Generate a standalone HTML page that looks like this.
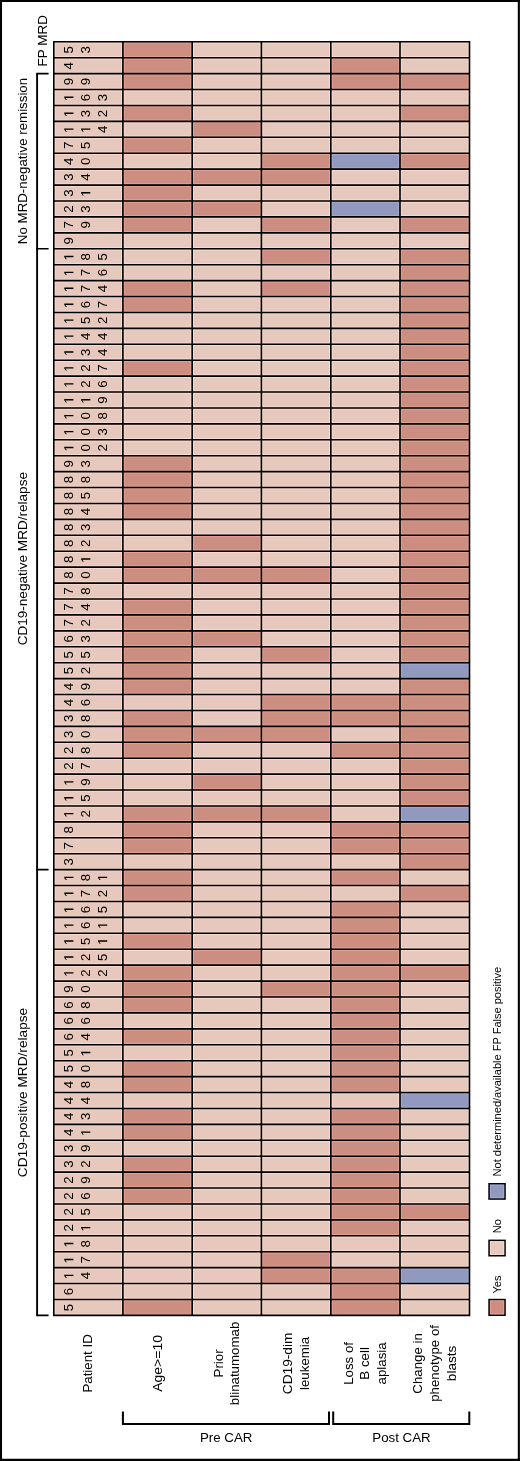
<!DOCTYPE html><html><head><meta charset="utf-8"><style>html,body{margin:0;padding:0;background:#fff;width:520px;height:1461px;overflow:hidden}svg{display:block;will-change:transform}text{font-family:"Liberation Sans",sans-serif;fill:#000}</style></head><body>
<svg width="520" height="1461" viewBox="0 0 520 1461">
<rect x="0" y="0" width="520" height="1461" fill="#fff"/>
<rect x="53.80" y="41.80" width="69.10" height="15.92" fill="#e6c8bd"/>
<rect x="55.10" y="43.10" width="66.50" height="13.32" fill="none" stroke="#f8dacf" stroke-width="1.0"/>
<rect x="122.90" y="41.80" width="69.30" height="15.92" fill="#cc8e81"/>
<rect x="124.20" y="43.10" width="66.70" height="13.32" fill="none" stroke="#e3a191" stroke-width="1.0"/>
<rect x="192.20" y="41.80" width="69.20" height="15.92" fill="#e6c8bd"/>
<rect x="193.50" y="43.10" width="66.60" height="13.32" fill="none" stroke="#f8dacf" stroke-width="1.0"/>
<rect x="261.40" y="41.80" width="69.40" height="15.92" fill="#e6c8bd"/>
<rect x="262.70" y="43.10" width="66.80" height="13.32" fill="none" stroke="#f8dacf" stroke-width="1.0"/>
<rect x="330.80" y="41.80" width="69.20" height="15.92" fill="#e6c8bd"/>
<rect x="332.10" y="43.10" width="66.60" height="13.32" fill="none" stroke="#f8dacf" stroke-width="1.0"/>
<rect x="400.00" y="41.80" width="69.50" height="15.92" fill="#e6c8bd"/>
<rect x="401.30" y="43.10" width="66.90" height="13.32" fill="none" stroke="#f8dacf" stroke-width="1.0"/>
<rect x="53.80" y="57.72" width="69.10" height="15.92" fill="#e6c8bd"/>
<rect x="55.10" y="59.02" width="66.50" height="13.32" fill="none" stroke="#f8dacf" stroke-width="1.0"/>
<rect x="122.90" y="57.72" width="69.30" height="15.92" fill="#cc8e81"/>
<rect x="124.20" y="59.02" width="66.70" height="13.32" fill="none" stroke="#e3a191" stroke-width="1.0"/>
<rect x="192.20" y="57.72" width="69.20" height="15.92" fill="#e6c8bd"/>
<rect x="193.50" y="59.02" width="66.60" height="13.32" fill="none" stroke="#f8dacf" stroke-width="1.0"/>
<rect x="261.40" y="57.72" width="69.40" height="15.92" fill="#e6c8bd"/>
<rect x="262.70" y="59.02" width="66.80" height="13.32" fill="none" stroke="#f8dacf" stroke-width="1.0"/>
<rect x="330.80" y="57.72" width="69.20" height="15.92" fill="#cc8e81"/>
<rect x="332.10" y="59.02" width="66.60" height="13.32" fill="none" stroke="#e3a191" stroke-width="1.0"/>
<rect x="400.00" y="57.72" width="69.50" height="15.92" fill="#e6c8bd"/>
<rect x="401.30" y="59.02" width="66.90" height="13.32" fill="none" stroke="#f8dacf" stroke-width="1.0"/>
<rect x="53.80" y="73.64" width="69.10" height="15.92" fill="#e6c8bd"/>
<rect x="55.10" y="74.94" width="66.50" height="13.32" fill="none" stroke="#f8dacf" stroke-width="1.0"/>
<rect x="122.90" y="73.64" width="69.30" height="15.92" fill="#cc8e81"/>
<rect x="124.20" y="74.94" width="66.70" height="13.32" fill="none" stroke="#e3a191" stroke-width="1.0"/>
<rect x="192.20" y="73.64" width="69.20" height="15.92" fill="#e6c8bd"/>
<rect x="193.50" y="74.94" width="66.60" height="13.32" fill="none" stroke="#f8dacf" stroke-width="1.0"/>
<rect x="261.40" y="73.64" width="69.40" height="15.92" fill="#e6c8bd"/>
<rect x="262.70" y="74.94" width="66.80" height="13.32" fill="none" stroke="#f8dacf" stroke-width="1.0"/>
<rect x="330.80" y="73.64" width="69.20" height="15.92" fill="#cc8e81"/>
<rect x="332.10" y="74.94" width="66.60" height="13.32" fill="none" stroke="#e3a191" stroke-width="1.0"/>
<rect x="400.00" y="73.64" width="69.50" height="15.92" fill="#cc8e81"/>
<rect x="401.30" y="74.94" width="66.90" height="13.32" fill="none" stroke="#e3a191" stroke-width="1.0"/>
<rect x="53.80" y="89.56" width="69.10" height="15.92" fill="#e6c8bd"/>
<rect x="55.10" y="90.86" width="66.50" height="13.32" fill="none" stroke="#f8dacf" stroke-width="1.0"/>
<rect x="122.90" y="89.56" width="69.30" height="15.92" fill="#e6c8bd"/>
<rect x="124.20" y="90.86" width="66.70" height="13.32" fill="none" stroke="#f8dacf" stroke-width="1.0"/>
<rect x="192.20" y="89.56" width="69.20" height="15.92" fill="#e6c8bd"/>
<rect x="193.50" y="90.86" width="66.60" height="13.32" fill="none" stroke="#f8dacf" stroke-width="1.0"/>
<rect x="261.40" y="89.56" width="69.40" height="15.92" fill="#e6c8bd"/>
<rect x="262.70" y="90.86" width="66.80" height="13.32" fill="none" stroke="#f8dacf" stroke-width="1.0"/>
<rect x="330.80" y="89.56" width="69.20" height="15.92" fill="#e6c8bd"/>
<rect x="332.10" y="90.86" width="66.60" height="13.32" fill="none" stroke="#f8dacf" stroke-width="1.0"/>
<rect x="400.00" y="89.56" width="69.50" height="15.92" fill="#e6c8bd"/>
<rect x="401.30" y="90.86" width="66.90" height="13.32" fill="none" stroke="#f8dacf" stroke-width="1.0"/>
<rect x="53.80" y="105.48" width="69.10" height="15.92" fill="#e6c8bd"/>
<rect x="55.10" y="106.78" width="66.50" height="13.32" fill="none" stroke="#f8dacf" stroke-width="1.0"/>
<rect x="122.90" y="105.48" width="69.30" height="15.92" fill="#cc8e81"/>
<rect x="124.20" y="106.78" width="66.70" height="13.32" fill="none" stroke="#e3a191" stroke-width="1.0"/>
<rect x="192.20" y="105.48" width="69.20" height="15.92" fill="#e6c8bd"/>
<rect x="193.50" y="106.78" width="66.60" height="13.32" fill="none" stroke="#f8dacf" stroke-width="1.0"/>
<rect x="261.40" y="105.48" width="69.40" height="15.92" fill="#e6c8bd"/>
<rect x="262.70" y="106.78" width="66.80" height="13.32" fill="none" stroke="#f8dacf" stroke-width="1.0"/>
<rect x="330.80" y="105.48" width="69.20" height="15.92" fill="#e6c8bd"/>
<rect x="332.10" y="106.78" width="66.60" height="13.32" fill="none" stroke="#f8dacf" stroke-width="1.0"/>
<rect x="400.00" y="105.48" width="69.50" height="15.92" fill="#cc8e81"/>
<rect x="401.30" y="106.78" width="66.90" height="13.32" fill="none" stroke="#e3a191" stroke-width="1.0"/>
<rect x="53.80" y="121.40" width="69.10" height="15.92" fill="#e6c8bd"/>
<rect x="55.10" y="122.70" width="66.50" height="13.32" fill="none" stroke="#f8dacf" stroke-width="1.0"/>
<rect x="122.90" y="121.40" width="69.30" height="15.92" fill="#e6c8bd"/>
<rect x="124.20" y="122.70" width="66.70" height="13.32" fill="none" stroke="#f8dacf" stroke-width="1.0"/>
<rect x="192.20" y="121.40" width="69.20" height="15.92" fill="#cc8e81"/>
<rect x="193.50" y="122.70" width="66.60" height="13.32" fill="none" stroke="#e3a191" stroke-width="1.0"/>
<rect x="261.40" y="121.40" width="69.40" height="15.92" fill="#e6c8bd"/>
<rect x="262.70" y="122.70" width="66.80" height="13.32" fill="none" stroke="#f8dacf" stroke-width="1.0"/>
<rect x="330.80" y="121.40" width="69.20" height="15.92" fill="#e6c8bd"/>
<rect x="332.10" y="122.70" width="66.60" height="13.32" fill="none" stroke="#f8dacf" stroke-width="1.0"/>
<rect x="400.00" y="121.40" width="69.50" height="15.92" fill="#e6c8bd"/>
<rect x="401.30" y="122.70" width="66.90" height="13.32" fill="none" stroke="#f8dacf" stroke-width="1.0"/>
<rect x="53.80" y="137.32" width="69.10" height="15.92" fill="#e6c8bd"/>
<rect x="55.10" y="138.62" width="66.50" height="13.32" fill="none" stroke="#f8dacf" stroke-width="1.0"/>
<rect x="122.90" y="137.32" width="69.30" height="15.92" fill="#cc8e81"/>
<rect x="124.20" y="138.62" width="66.70" height="13.32" fill="none" stroke="#e3a191" stroke-width="1.0"/>
<rect x="192.20" y="137.32" width="69.20" height="15.92" fill="#e6c8bd"/>
<rect x="193.50" y="138.62" width="66.60" height="13.32" fill="none" stroke="#f8dacf" stroke-width="1.0"/>
<rect x="261.40" y="137.32" width="69.40" height="15.92" fill="#e6c8bd"/>
<rect x="262.70" y="138.62" width="66.80" height="13.32" fill="none" stroke="#f8dacf" stroke-width="1.0"/>
<rect x="330.80" y="137.32" width="69.20" height="15.92" fill="#e6c8bd"/>
<rect x="332.10" y="138.62" width="66.60" height="13.32" fill="none" stroke="#f8dacf" stroke-width="1.0"/>
<rect x="400.00" y="137.32" width="69.50" height="15.92" fill="#e6c8bd"/>
<rect x="401.30" y="138.62" width="66.90" height="13.32" fill="none" stroke="#f8dacf" stroke-width="1.0"/>
<rect x="53.80" y="153.24" width="69.10" height="15.92" fill="#e6c8bd"/>
<rect x="55.10" y="154.54" width="66.50" height="13.32" fill="none" stroke="#f8dacf" stroke-width="1.0"/>
<rect x="122.90" y="153.24" width="69.30" height="15.92" fill="#e6c8bd"/>
<rect x="124.20" y="154.54" width="66.70" height="13.32" fill="none" stroke="#f8dacf" stroke-width="1.0"/>
<rect x="192.20" y="153.24" width="69.20" height="15.92" fill="#e6c8bd"/>
<rect x="193.50" y="154.54" width="66.60" height="13.32" fill="none" stroke="#f8dacf" stroke-width="1.0"/>
<rect x="261.40" y="153.24" width="69.40" height="15.92" fill="#cc8e81"/>
<rect x="262.70" y="154.54" width="66.80" height="13.32" fill="none" stroke="#e3a191" stroke-width="1.0"/>
<rect x="330.80" y="153.24" width="69.20" height="15.92" fill="#9299be"/>
<rect x="332.10" y="154.54" width="66.60" height="13.32" fill="none" stroke="#a4abd2" stroke-width="1.0"/>
<rect x="400.00" y="153.24" width="69.50" height="15.92" fill="#cc8e81"/>
<rect x="401.30" y="154.54" width="66.90" height="13.32" fill="none" stroke="#e3a191" stroke-width="1.0"/>
<rect x="53.80" y="169.16" width="69.10" height="15.92" fill="#e6c8bd"/>
<rect x="55.10" y="170.46" width="66.50" height="13.32" fill="none" stroke="#f8dacf" stroke-width="1.0"/>
<rect x="122.90" y="169.16" width="69.30" height="15.92" fill="#cc8e81"/>
<rect x="124.20" y="170.46" width="66.70" height="13.32" fill="none" stroke="#e3a191" stroke-width="1.0"/>
<rect x="192.20" y="169.16" width="69.20" height="15.92" fill="#cc8e81"/>
<rect x="193.50" y="170.46" width="66.60" height="13.32" fill="none" stroke="#e3a191" stroke-width="1.0"/>
<rect x="261.40" y="169.16" width="69.40" height="15.92" fill="#cc8e81"/>
<rect x="262.70" y="170.46" width="66.80" height="13.32" fill="none" stroke="#e3a191" stroke-width="1.0"/>
<rect x="330.80" y="169.16" width="69.20" height="15.92" fill="#e6c8bd"/>
<rect x="332.10" y="170.46" width="66.60" height="13.32" fill="none" stroke="#f8dacf" stroke-width="1.0"/>
<rect x="400.00" y="169.16" width="69.50" height="15.92" fill="#e6c8bd"/>
<rect x="401.30" y="170.46" width="66.90" height="13.32" fill="none" stroke="#f8dacf" stroke-width="1.0"/>
<rect x="53.80" y="185.08" width="69.10" height="15.92" fill="#e6c8bd"/>
<rect x="55.10" y="186.38" width="66.50" height="13.32" fill="none" stroke="#f8dacf" stroke-width="1.0"/>
<rect x="122.90" y="185.08" width="69.30" height="15.92" fill="#cc8e81"/>
<rect x="124.20" y="186.38" width="66.70" height="13.32" fill="none" stroke="#e3a191" stroke-width="1.0"/>
<rect x="192.20" y="185.08" width="69.20" height="15.92" fill="#e6c8bd"/>
<rect x="193.50" y="186.38" width="66.60" height="13.32" fill="none" stroke="#f8dacf" stroke-width="1.0"/>
<rect x="261.40" y="185.08" width="69.40" height="15.92" fill="#e6c8bd"/>
<rect x="262.70" y="186.38" width="66.80" height="13.32" fill="none" stroke="#f8dacf" stroke-width="1.0"/>
<rect x="330.80" y="185.08" width="69.20" height="15.92" fill="#e6c8bd"/>
<rect x="332.10" y="186.38" width="66.60" height="13.32" fill="none" stroke="#f8dacf" stroke-width="1.0"/>
<rect x="400.00" y="185.08" width="69.50" height="15.92" fill="#e6c8bd"/>
<rect x="401.30" y="186.38" width="66.90" height="13.32" fill="none" stroke="#f8dacf" stroke-width="1.0"/>
<rect x="53.80" y="201.00" width="69.10" height="15.92" fill="#e6c8bd"/>
<rect x="55.10" y="202.30" width="66.50" height="13.32" fill="none" stroke="#f8dacf" stroke-width="1.0"/>
<rect x="122.90" y="201.00" width="69.30" height="15.92" fill="#cc8e81"/>
<rect x="124.20" y="202.30" width="66.70" height="13.32" fill="none" stroke="#e3a191" stroke-width="1.0"/>
<rect x="192.20" y="201.00" width="69.20" height="15.92" fill="#cc8e81"/>
<rect x="193.50" y="202.30" width="66.60" height="13.32" fill="none" stroke="#e3a191" stroke-width="1.0"/>
<rect x="261.40" y="201.00" width="69.40" height="15.92" fill="#e6c8bd"/>
<rect x="262.70" y="202.30" width="66.80" height="13.32" fill="none" stroke="#f8dacf" stroke-width="1.0"/>
<rect x="330.80" y="201.00" width="69.20" height="15.92" fill="#9299be"/>
<rect x="332.10" y="202.30" width="66.60" height="13.32" fill="none" stroke="#a4abd2" stroke-width="1.0"/>
<rect x="400.00" y="201.00" width="69.50" height="15.92" fill="#e6c8bd"/>
<rect x="401.30" y="202.30" width="66.90" height="13.32" fill="none" stroke="#f8dacf" stroke-width="1.0"/>
<rect x="53.80" y="216.92" width="69.10" height="15.92" fill="#e6c8bd"/>
<rect x="55.10" y="218.22" width="66.50" height="13.32" fill="none" stroke="#f8dacf" stroke-width="1.0"/>
<rect x="122.90" y="216.92" width="69.30" height="15.92" fill="#cc8e81"/>
<rect x="124.20" y="218.22" width="66.70" height="13.32" fill="none" stroke="#e3a191" stroke-width="1.0"/>
<rect x="192.20" y="216.92" width="69.20" height="15.92" fill="#e6c8bd"/>
<rect x="193.50" y="218.22" width="66.60" height="13.32" fill="none" stroke="#f8dacf" stroke-width="1.0"/>
<rect x="261.40" y="216.92" width="69.40" height="15.92" fill="#cc8e81"/>
<rect x="262.70" y="218.22" width="66.80" height="13.32" fill="none" stroke="#e3a191" stroke-width="1.0"/>
<rect x="330.80" y="216.92" width="69.20" height="15.92" fill="#e6c8bd"/>
<rect x="332.10" y="218.22" width="66.60" height="13.32" fill="none" stroke="#f8dacf" stroke-width="1.0"/>
<rect x="400.00" y="216.92" width="69.50" height="15.92" fill="#cc8e81"/>
<rect x="401.30" y="218.22" width="66.90" height="13.32" fill="none" stroke="#e3a191" stroke-width="1.0"/>
<rect x="53.80" y="232.84" width="69.10" height="15.92" fill="#e6c8bd"/>
<rect x="55.10" y="234.14" width="66.50" height="13.32" fill="none" stroke="#f8dacf" stroke-width="1.0"/>
<rect x="122.90" y="232.84" width="69.30" height="15.92" fill="#e6c8bd"/>
<rect x="124.20" y="234.14" width="66.70" height="13.32" fill="none" stroke="#f8dacf" stroke-width="1.0"/>
<rect x="192.20" y="232.84" width="69.20" height="15.92" fill="#e6c8bd"/>
<rect x="193.50" y="234.14" width="66.60" height="13.32" fill="none" stroke="#f8dacf" stroke-width="1.0"/>
<rect x="261.40" y="232.84" width="69.40" height="15.92" fill="#e6c8bd"/>
<rect x="262.70" y="234.14" width="66.80" height="13.32" fill="none" stroke="#f8dacf" stroke-width="1.0"/>
<rect x="330.80" y="232.84" width="69.20" height="15.92" fill="#e6c8bd"/>
<rect x="332.10" y="234.14" width="66.60" height="13.32" fill="none" stroke="#f8dacf" stroke-width="1.0"/>
<rect x="400.00" y="232.84" width="69.50" height="15.92" fill="#e6c8bd"/>
<rect x="401.30" y="234.14" width="66.90" height="13.32" fill="none" stroke="#f8dacf" stroke-width="1.0"/>
<rect x="53.80" y="248.76" width="69.10" height="15.92" fill="#e6c8bd"/>
<rect x="55.10" y="250.06" width="66.50" height="13.32" fill="none" stroke="#f8dacf" stroke-width="1.0"/>
<rect x="122.90" y="248.76" width="69.30" height="15.92" fill="#e6c8bd"/>
<rect x="124.20" y="250.06" width="66.70" height="13.32" fill="none" stroke="#f8dacf" stroke-width="1.0"/>
<rect x="192.20" y="248.76" width="69.20" height="15.92" fill="#e6c8bd"/>
<rect x="193.50" y="250.06" width="66.60" height="13.32" fill="none" stroke="#f8dacf" stroke-width="1.0"/>
<rect x="261.40" y="248.76" width="69.40" height="15.92" fill="#cc8e81"/>
<rect x="262.70" y="250.06" width="66.80" height="13.32" fill="none" stroke="#e3a191" stroke-width="1.0"/>
<rect x="330.80" y="248.76" width="69.20" height="15.92" fill="#e6c8bd"/>
<rect x="332.10" y="250.06" width="66.60" height="13.32" fill="none" stroke="#f8dacf" stroke-width="1.0"/>
<rect x="400.00" y="248.76" width="69.50" height="15.92" fill="#cc8e81"/>
<rect x="401.30" y="250.06" width="66.90" height="13.32" fill="none" stroke="#e3a191" stroke-width="1.0"/>
<rect x="53.80" y="264.68" width="69.10" height="15.92" fill="#e6c8bd"/>
<rect x="55.10" y="265.98" width="66.50" height="13.32" fill="none" stroke="#f8dacf" stroke-width="1.0"/>
<rect x="122.90" y="264.68" width="69.30" height="15.92" fill="#e6c8bd"/>
<rect x="124.20" y="265.98" width="66.70" height="13.32" fill="none" stroke="#f8dacf" stroke-width="1.0"/>
<rect x="192.20" y="264.68" width="69.20" height="15.92" fill="#e6c8bd"/>
<rect x="193.50" y="265.98" width="66.60" height="13.32" fill="none" stroke="#f8dacf" stroke-width="1.0"/>
<rect x="261.40" y="264.68" width="69.40" height="15.92" fill="#e6c8bd"/>
<rect x="262.70" y="265.98" width="66.80" height="13.32" fill="none" stroke="#f8dacf" stroke-width="1.0"/>
<rect x="330.80" y="264.68" width="69.20" height="15.92" fill="#e6c8bd"/>
<rect x="332.10" y="265.98" width="66.60" height="13.32" fill="none" stroke="#f8dacf" stroke-width="1.0"/>
<rect x="400.00" y="264.68" width="69.50" height="15.92" fill="#cc8e81"/>
<rect x="401.30" y="265.98" width="66.90" height="13.32" fill="none" stroke="#e3a191" stroke-width="1.0"/>
<rect x="53.80" y="280.60" width="69.10" height="15.92" fill="#e6c8bd"/>
<rect x="55.10" y="281.90" width="66.50" height="13.32" fill="none" stroke="#f8dacf" stroke-width="1.0"/>
<rect x="122.90" y="280.60" width="69.30" height="15.92" fill="#cc8e81"/>
<rect x="124.20" y="281.90" width="66.70" height="13.32" fill="none" stroke="#e3a191" stroke-width="1.0"/>
<rect x="192.20" y="280.60" width="69.20" height="15.92" fill="#e6c8bd"/>
<rect x="193.50" y="281.90" width="66.60" height="13.32" fill="none" stroke="#f8dacf" stroke-width="1.0"/>
<rect x="261.40" y="280.60" width="69.40" height="15.92" fill="#cc8e81"/>
<rect x="262.70" y="281.90" width="66.80" height="13.32" fill="none" stroke="#e3a191" stroke-width="1.0"/>
<rect x="330.80" y="280.60" width="69.20" height="15.92" fill="#e6c8bd"/>
<rect x="332.10" y="281.90" width="66.60" height="13.32" fill="none" stroke="#f8dacf" stroke-width="1.0"/>
<rect x="400.00" y="280.60" width="69.50" height="15.92" fill="#cc8e81"/>
<rect x="401.30" y="281.90" width="66.90" height="13.32" fill="none" stroke="#e3a191" stroke-width="1.0"/>
<rect x="53.80" y="296.52" width="69.10" height="15.92" fill="#e6c8bd"/>
<rect x="55.10" y="297.82" width="66.50" height="13.32" fill="none" stroke="#f8dacf" stroke-width="1.0"/>
<rect x="122.90" y="296.52" width="69.30" height="15.92" fill="#cc8e81"/>
<rect x="124.20" y="297.82" width="66.70" height="13.32" fill="none" stroke="#e3a191" stroke-width="1.0"/>
<rect x="192.20" y="296.52" width="69.20" height="15.92" fill="#e6c8bd"/>
<rect x="193.50" y="297.82" width="66.60" height="13.32" fill="none" stroke="#f8dacf" stroke-width="1.0"/>
<rect x="261.40" y="296.52" width="69.40" height="15.92" fill="#e6c8bd"/>
<rect x="262.70" y="297.82" width="66.80" height="13.32" fill="none" stroke="#f8dacf" stroke-width="1.0"/>
<rect x="330.80" y="296.52" width="69.20" height="15.92" fill="#e6c8bd"/>
<rect x="332.10" y="297.82" width="66.60" height="13.32" fill="none" stroke="#f8dacf" stroke-width="1.0"/>
<rect x="400.00" y="296.52" width="69.50" height="15.92" fill="#cc8e81"/>
<rect x="401.30" y="297.82" width="66.90" height="13.32" fill="none" stroke="#e3a191" stroke-width="1.0"/>
<rect x="53.80" y="312.44" width="69.10" height="15.92" fill="#e6c8bd"/>
<rect x="55.10" y="313.74" width="66.50" height="13.32" fill="none" stroke="#f8dacf" stroke-width="1.0"/>
<rect x="122.90" y="312.44" width="69.30" height="15.92" fill="#e6c8bd"/>
<rect x="124.20" y="313.74" width="66.70" height="13.32" fill="none" stroke="#f8dacf" stroke-width="1.0"/>
<rect x="192.20" y="312.44" width="69.20" height="15.92" fill="#e6c8bd"/>
<rect x="193.50" y="313.74" width="66.60" height="13.32" fill="none" stroke="#f8dacf" stroke-width="1.0"/>
<rect x="261.40" y="312.44" width="69.40" height="15.92" fill="#e6c8bd"/>
<rect x="262.70" y="313.74" width="66.80" height="13.32" fill="none" stroke="#f8dacf" stroke-width="1.0"/>
<rect x="330.80" y="312.44" width="69.20" height="15.92" fill="#e6c8bd"/>
<rect x="332.10" y="313.74" width="66.60" height="13.32" fill="none" stroke="#f8dacf" stroke-width="1.0"/>
<rect x="400.00" y="312.44" width="69.50" height="15.92" fill="#cc8e81"/>
<rect x="401.30" y="313.74" width="66.90" height="13.32" fill="none" stroke="#e3a191" stroke-width="1.0"/>
<rect x="53.80" y="328.36" width="69.10" height="15.92" fill="#e6c8bd"/>
<rect x="55.10" y="329.66" width="66.50" height="13.32" fill="none" stroke="#f8dacf" stroke-width="1.0"/>
<rect x="122.90" y="328.36" width="69.30" height="15.92" fill="#e6c8bd"/>
<rect x="124.20" y="329.66" width="66.70" height="13.32" fill="none" stroke="#f8dacf" stroke-width="1.0"/>
<rect x="192.20" y="328.36" width="69.20" height="15.92" fill="#e6c8bd"/>
<rect x="193.50" y="329.66" width="66.60" height="13.32" fill="none" stroke="#f8dacf" stroke-width="1.0"/>
<rect x="261.40" y="328.36" width="69.40" height="15.92" fill="#e6c8bd"/>
<rect x="262.70" y="329.66" width="66.80" height="13.32" fill="none" stroke="#f8dacf" stroke-width="1.0"/>
<rect x="330.80" y="328.36" width="69.20" height="15.92" fill="#e6c8bd"/>
<rect x="332.10" y="329.66" width="66.60" height="13.32" fill="none" stroke="#f8dacf" stroke-width="1.0"/>
<rect x="400.00" y="328.36" width="69.50" height="15.92" fill="#cc8e81"/>
<rect x="401.30" y="329.66" width="66.90" height="13.32" fill="none" stroke="#e3a191" stroke-width="1.0"/>
<rect x="53.80" y="344.28" width="69.10" height="15.92" fill="#e6c8bd"/>
<rect x="55.10" y="345.58" width="66.50" height="13.32" fill="none" stroke="#f8dacf" stroke-width="1.0"/>
<rect x="122.90" y="344.28" width="69.30" height="15.92" fill="#e6c8bd"/>
<rect x="124.20" y="345.58" width="66.70" height="13.32" fill="none" stroke="#f8dacf" stroke-width="1.0"/>
<rect x="192.20" y="344.28" width="69.20" height="15.92" fill="#e6c8bd"/>
<rect x="193.50" y="345.58" width="66.60" height="13.32" fill="none" stroke="#f8dacf" stroke-width="1.0"/>
<rect x="261.40" y="344.28" width="69.40" height="15.92" fill="#e6c8bd"/>
<rect x="262.70" y="345.58" width="66.80" height="13.32" fill="none" stroke="#f8dacf" stroke-width="1.0"/>
<rect x="330.80" y="344.28" width="69.20" height="15.92" fill="#e6c8bd"/>
<rect x="332.10" y="345.58" width="66.60" height="13.32" fill="none" stroke="#f8dacf" stroke-width="1.0"/>
<rect x="400.00" y="344.28" width="69.50" height="15.92" fill="#cc8e81"/>
<rect x="401.30" y="345.58" width="66.90" height="13.32" fill="none" stroke="#e3a191" stroke-width="1.0"/>
<rect x="53.80" y="360.20" width="69.10" height="15.92" fill="#e6c8bd"/>
<rect x="55.10" y="361.50" width="66.50" height="13.32" fill="none" stroke="#f8dacf" stroke-width="1.0"/>
<rect x="122.90" y="360.20" width="69.30" height="15.92" fill="#cc8e81"/>
<rect x="124.20" y="361.50" width="66.70" height="13.32" fill="none" stroke="#e3a191" stroke-width="1.0"/>
<rect x="192.20" y="360.20" width="69.20" height="15.92" fill="#e6c8bd"/>
<rect x="193.50" y="361.50" width="66.60" height="13.32" fill="none" stroke="#f8dacf" stroke-width="1.0"/>
<rect x="261.40" y="360.20" width="69.40" height="15.92" fill="#e6c8bd"/>
<rect x="262.70" y="361.50" width="66.80" height="13.32" fill="none" stroke="#f8dacf" stroke-width="1.0"/>
<rect x="330.80" y="360.20" width="69.20" height="15.92" fill="#e6c8bd"/>
<rect x="332.10" y="361.50" width="66.60" height="13.32" fill="none" stroke="#f8dacf" stroke-width="1.0"/>
<rect x="400.00" y="360.20" width="69.50" height="15.92" fill="#cc8e81"/>
<rect x="401.30" y="361.50" width="66.90" height="13.32" fill="none" stroke="#e3a191" stroke-width="1.0"/>
<rect x="53.80" y="376.12" width="69.10" height="15.92" fill="#e6c8bd"/>
<rect x="55.10" y="377.42" width="66.50" height="13.32" fill="none" stroke="#f8dacf" stroke-width="1.0"/>
<rect x="122.90" y="376.12" width="69.30" height="15.92" fill="#e6c8bd"/>
<rect x="124.20" y="377.42" width="66.70" height="13.32" fill="none" stroke="#f8dacf" stroke-width="1.0"/>
<rect x="192.20" y="376.12" width="69.20" height="15.92" fill="#e6c8bd"/>
<rect x="193.50" y="377.42" width="66.60" height="13.32" fill="none" stroke="#f8dacf" stroke-width="1.0"/>
<rect x="261.40" y="376.12" width="69.40" height="15.92" fill="#e6c8bd"/>
<rect x="262.70" y="377.42" width="66.80" height="13.32" fill="none" stroke="#f8dacf" stroke-width="1.0"/>
<rect x="330.80" y="376.12" width="69.20" height="15.92" fill="#e6c8bd"/>
<rect x="332.10" y="377.42" width="66.60" height="13.32" fill="none" stroke="#f8dacf" stroke-width="1.0"/>
<rect x="400.00" y="376.12" width="69.50" height="15.92" fill="#cc8e81"/>
<rect x="401.30" y="377.42" width="66.90" height="13.32" fill="none" stroke="#e3a191" stroke-width="1.0"/>
<rect x="53.80" y="392.04" width="69.10" height="15.92" fill="#e6c8bd"/>
<rect x="55.10" y="393.34" width="66.50" height="13.32" fill="none" stroke="#f8dacf" stroke-width="1.0"/>
<rect x="122.90" y="392.04" width="69.30" height="15.92" fill="#e6c8bd"/>
<rect x="124.20" y="393.34" width="66.70" height="13.32" fill="none" stroke="#f8dacf" stroke-width="1.0"/>
<rect x="192.20" y="392.04" width="69.20" height="15.92" fill="#e6c8bd"/>
<rect x="193.50" y="393.34" width="66.60" height="13.32" fill="none" stroke="#f8dacf" stroke-width="1.0"/>
<rect x="261.40" y="392.04" width="69.40" height="15.92" fill="#e6c8bd"/>
<rect x="262.70" y="393.34" width="66.80" height="13.32" fill="none" stroke="#f8dacf" stroke-width="1.0"/>
<rect x="330.80" y="392.04" width="69.20" height="15.92" fill="#e6c8bd"/>
<rect x="332.10" y="393.34" width="66.60" height="13.32" fill="none" stroke="#f8dacf" stroke-width="1.0"/>
<rect x="400.00" y="392.04" width="69.50" height="15.92" fill="#cc8e81"/>
<rect x="401.30" y="393.34" width="66.90" height="13.32" fill="none" stroke="#e3a191" stroke-width="1.0"/>
<rect x="53.80" y="407.96" width="69.10" height="15.92" fill="#e6c8bd"/>
<rect x="55.10" y="409.26" width="66.50" height="13.32" fill="none" stroke="#f8dacf" stroke-width="1.0"/>
<rect x="122.90" y="407.96" width="69.30" height="15.92" fill="#e6c8bd"/>
<rect x="124.20" y="409.26" width="66.70" height="13.32" fill="none" stroke="#f8dacf" stroke-width="1.0"/>
<rect x="192.20" y="407.96" width="69.20" height="15.92" fill="#e6c8bd"/>
<rect x="193.50" y="409.26" width="66.60" height="13.32" fill="none" stroke="#f8dacf" stroke-width="1.0"/>
<rect x="261.40" y="407.96" width="69.40" height="15.92" fill="#e6c8bd"/>
<rect x="262.70" y="409.26" width="66.80" height="13.32" fill="none" stroke="#f8dacf" stroke-width="1.0"/>
<rect x="330.80" y="407.96" width="69.20" height="15.92" fill="#e6c8bd"/>
<rect x="332.10" y="409.26" width="66.60" height="13.32" fill="none" stroke="#f8dacf" stroke-width="1.0"/>
<rect x="400.00" y="407.96" width="69.50" height="15.92" fill="#cc8e81"/>
<rect x="401.30" y="409.26" width="66.90" height="13.32" fill="none" stroke="#e3a191" stroke-width="1.0"/>
<rect x="53.80" y="423.88" width="69.10" height="15.92" fill="#e6c8bd"/>
<rect x="55.10" y="425.18" width="66.50" height="13.32" fill="none" stroke="#f8dacf" stroke-width="1.0"/>
<rect x="122.90" y="423.88" width="69.30" height="15.92" fill="#e6c8bd"/>
<rect x="124.20" y="425.18" width="66.70" height="13.32" fill="none" stroke="#f8dacf" stroke-width="1.0"/>
<rect x="192.20" y="423.88" width="69.20" height="15.92" fill="#e6c8bd"/>
<rect x="193.50" y="425.18" width="66.60" height="13.32" fill="none" stroke="#f8dacf" stroke-width="1.0"/>
<rect x="261.40" y="423.88" width="69.40" height="15.92" fill="#e6c8bd"/>
<rect x="262.70" y="425.18" width="66.80" height="13.32" fill="none" stroke="#f8dacf" stroke-width="1.0"/>
<rect x="330.80" y="423.88" width="69.20" height="15.92" fill="#e6c8bd"/>
<rect x="332.10" y="425.18" width="66.60" height="13.32" fill="none" stroke="#f8dacf" stroke-width="1.0"/>
<rect x="400.00" y="423.88" width="69.50" height="15.92" fill="#cc8e81"/>
<rect x="401.30" y="425.18" width="66.90" height="13.32" fill="none" stroke="#e3a191" stroke-width="1.0"/>
<rect x="53.80" y="439.80" width="69.10" height="15.92" fill="#e6c8bd"/>
<rect x="55.10" y="441.10" width="66.50" height="13.32" fill="none" stroke="#f8dacf" stroke-width="1.0"/>
<rect x="122.90" y="439.80" width="69.30" height="15.92" fill="#e6c8bd"/>
<rect x="124.20" y="441.10" width="66.70" height="13.32" fill="none" stroke="#f8dacf" stroke-width="1.0"/>
<rect x="192.20" y="439.80" width="69.20" height="15.92" fill="#e6c8bd"/>
<rect x="193.50" y="441.10" width="66.60" height="13.32" fill="none" stroke="#f8dacf" stroke-width="1.0"/>
<rect x="261.40" y="439.80" width="69.40" height="15.92" fill="#e6c8bd"/>
<rect x="262.70" y="441.10" width="66.80" height="13.32" fill="none" stroke="#f8dacf" stroke-width="1.0"/>
<rect x="330.80" y="439.80" width="69.20" height="15.92" fill="#e6c8bd"/>
<rect x="332.10" y="441.10" width="66.60" height="13.32" fill="none" stroke="#f8dacf" stroke-width="1.0"/>
<rect x="400.00" y="439.80" width="69.50" height="15.92" fill="#cc8e81"/>
<rect x="401.30" y="441.10" width="66.90" height="13.32" fill="none" stroke="#e3a191" stroke-width="1.0"/>
<rect x="53.80" y="455.72" width="69.10" height="15.92" fill="#e6c8bd"/>
<rect x="55.10" y="457.02" width="66.50" height="13.32" fill="none" stroke="#f8dacf" stroke-width="1.0"/>
<rect x="122.90" y="455.72" width="69.30" height="15.92" fill="#cc8e81"/>
<rect x="124.20" y="457.02" width="66.70" height="13.32" fill="none" stroke="#e3a191" stroke-width="1.0"/>
<rect x="192.20" y="455.72" width="69.20" height="15.92" fill="#e6c8bd"/>
<rect x="193.50" y="457.02" width="66.60" height="13.32" fill="none" stroke="#f8dacf" stroke-width="1.0"/>
<rect x="261.40" y="455.72" width="69.40" height="15.92" fill="#e6c8bd"/>
<rect x="262.70" y="457.02" width="66.80" height="13.32" fill="none" stroke="#f8dacf" stroke-width="1.0"/>
<rect x="330.80" y="455.72" width="69.20" height="15.92" fill="#e6c8bd"/>
<rect x="332.10" y="457.02" width="66.60" height="13.32" fill="none" stroke="#f8dacf" stroke-width="1.0"/>
<rect x="400.00" y="455.72" width="69.50" height="15.92" fill="#cc8e81"/>
<rect x="401.30" y="457.02" width="66.90" height="13.32" fill="none" stroke="#e3a191" stroke-width="1.0"/>
<rect x="53.80" y="471.64" width="69.10" height="15.92" fill="#e6c8bd"/>
<rect x="55.10" y="472.94" width="66.50" height="13.32" fill="none" stroke="#f8dacf" stroke-width="1.0"/>
<rect x="122.90" y="471.64" width="69.30" height="15.92" fill="#cc8e81"/>
<rect x="124.20" y="472.94" width="66.70" height="13.32" fill="none" stroke="#e3a191" stroke-width="1.0"/>
<rect x="192.20" y="471.64" width="69.20" height="15.92" fill="#e6c8bd"/>
<rect x="193.50" y="472.94" width="66.60" height="13.32" fill="none" stroke="#f8dacf" stroke-width="1.0"/>
<rect x="261.40" y="471.64" width="69.40" height="15.92" fill="#e6c8bd"/>
<rect x="262.70" y="472.94" width="66.80" height="13.32" fill="none" stroke="#f8dacf" stroke-width="1.0"/>
<rect x="330.80" y="471.64" width="69.20" height="15.92" fill="#e6c8bd"/>
<rect x="332.10" y="472.94" width="66.60" height="13.32" fill="none" stroke="#f8dacf" stroke-width="1.0"/>
<rect x="400.00" y="471.64" width="69.50" height="15.92" fill="#cc8e81"/>
<rect x="401.30" y="472.94" width="66.90" height="13.32" fill="none" stroke="#e3a191" stroke-width="1.0"/>
<rect x="53.80" y="487.56" width="69.10" height="15.92" fill="#e6c8bd"/>
<rect x="55.10" y="488.86" width="66.50" height="13.32" fill="none" stroke="#f8dacf" stroke-width="1.0"/>
<rect x="122.90" y="487.56" width="69.30" height="15.92" fill="#cc8e81"/>
<rect x="124.20" y="488.86" width="66.70" height="13.32" fill="none" stroke="#e3a191" stroke-width="1.0"/>
<rect x="192.20" y="487.56" width="69.20" height="15.92" fill="#e6c8bd"/>
<rect x="193.50" y="488.86" width="66.60" height="13.32" fill="none" stroke="#f8dacf" stroke-width="1.0"/>
<rect x="261.40" y="487.56" width="69.40" height="15.92" fill="#e6c8bd"/>
<rect x="262.70" y="488.86" width="66.80" height="13.32" fill="none" stroke="#f8dacf" stroke-width="1.0"/>
<rect x="330.80" y="487.56" width="69.20" height="15.92" fill="#e6c8bd"/>
<rect x="332.10" y="488.86" width="66.60" height="13.32" fill="none" stroke="#f8dacf" stroke-width="1.0"/>
<rect x="400.00" y="487.56" width="69.50" height="15.92" fill="#cc8e81"/>
<rect x="401.30" y="488.86" width="66.90" height="13.32" fill="none" stroke="#e3a191" stroke-width="1.0"/>
<rect x="53.80" y="503.48" width="69.10" height="15.92" fill="#e6c8bd"/>
<rect x="55.10" y="504.78" width="66.50" height="13.32" fill="none" stroke="#f8dacf" stroke-width="1.0"/>
<rect x="122.90" y="503.48" width="69.30" height="15.92" fill="#cc8e81"/>
<rect x="124.20" y="504.78" width="66.70" height="13.32" fill="none" stroke="#e3a191" stroke-width="1.0"/>
<rect x="192.20" y="503.48" width="69.20" height="15.92" fill="#e6c8bd"/>
<rect x="193.50" y="504.78" width="66.60" height="13.32" fill="none" stroke="#f8dacf" stroke-width="1.0"/>
<rect x="261.40" y="503.48" width="69.40" height="15.92" fill="#e6c8bd"/>
<rect x="262.70" y="504.78" width="66.80" height="13.32" fill="none" stroke="#f8dacf" stroke-width="1.0"/>
<rect x="330.80" y="503.48" width="69.20" height="15.92" fill="#e6c8bd"/>
<rect x="332.10" y="504.78" width="66.60" height="13.32" fill="none" stroke="#f8dacf" stroke-width="1.0"/>
<rect x="400.00" y="503.48" width="69.50" height="15.92" fill="#cc8e81"/>
<rect x="401.30" y="504.78" width="66.90" height="13.32" fill="none" stroke="#e3a191" stroke-width="1.0"/>
<rect x="53.80" y="519.40" width="69.10" height="15.92" fill="#e6c8bd"/>
<rect x="55.10" y="520.70" width="66.50" height="13.32" fill="none" stroke="#f8dacf" stroke-width="1.0"/>
<rect x="122.90" y="519.40" width="69.30" height="15.92" fill="#e6c8bd"/>
<rect x="124.20" y="520.70" width="66.70" height="13.32" fill="none" stroke="#f8dacf" stroke-width="1.0"/>
<rect x="192.20" y="519.40" width="69.20" height="15.92" fill="#e6c8bd"/>
<rect x="193.50" y="520.70" width="66.60" height="13.32" fill="none" stroke="#f8dacf" stroke-width="1.0"/>
<rect x="261.40" y="519.40" width="69.40" height="15.92" fill="#e6c8bd"/>
<rect x="262.70" y="520.70" width="66.80" height="13.32" fill="none" stroke="#f8dacf" stroke-width="1.0"/>
<rect x="330.80" y="519.40" width="69.20" height="15.92" fill="#e6c8bd"/>
<rect x="332.10" y="520.70" width="66.60" height="13.32" fill="none" stroke="#f8dacf" stroke-width="1.0"/>
<rect x="400.00" y="519.40" width="69.50" height="15.92" fill="#cc8e81"/>
<rect x="401.30" y="520.70" width="66.90" height="13.32" fill="none" stroke="#e3a191" stroke-width="1.0"/>
<rect x="53.80" y="535.32" width="69.10" height="15.92" fill="#e6c8bd"/>
<rect x="55.10" y="536.62" width="66.50" height="13.32" fill="none" stroke="#f8dacf" stroke-width="1.0"/>
<rect x="122.90" y="535.32" width="69.30" height="15.92" fill="#e6c8bd"/>
<rect x="124.20" y="536.62" width="66.70" height="13.32" fill="none" stroke="#f8dacf" stroke-width="1.0"/>
<rect x="192.20" y="535.32" width="69.20" height="15.92" fill="#cc8e81"/>
<rect x="193.50" y="536.62" width="66.60" height="13.32" fill="none" stroke="#e3a191" stroke-width="1.0"/>
<rect x="261.40" y="535.32" width="69.40" height="15.92" fill="#e6c8bd"/>
<rect x="262.70" y="536.62" width="66.80" height="13.32" fill="none" stroke="#f8dacf" stroke-width="1.0"/>
<rect x="330.80" y="535.32" width="69.20" height="15.92" fill="#e6c8bd"/>
<rect x="332.10" y="536.62" width="66.60" height="13.32" fill="none" stroke="#f8dacf" stroke-width="1.0"/>
<rect x="400.00" y="535.32" width="69.50" height="15.92" fill="#cc8e81"/>
<rect x="401.30" y="536.62" width="66.90" height="13.32" fill="none" stroke="#e3a191" stroke-width="1.0"/>
<rect x="53.80" y="551.24" width="69.10" height="15.92" fill="#e6c8bd"/>
<rect x="55.10" y="552.54" width="66.50" height="13.32" fill="none" stroke="#f8dacf" stroke-width="1.0"/>
<rect x="122.90" y="551.24" width="69.30" height="15.92" fill="#cc8e81"/>
<rect x="124.20" y="552.54" width="66.70" height="13.32" fill="none" stroke="#e3a191" stroke-width="1.0"/>
<rect x="192.20" y="551.24" width="69.20" height="15.92" fill="#e6c8bd"/>
<rect x="193.50" y="552.54" width="66.60" height="13.32" fill="none" stroke="#f8dacf" stroke-width="1.0"/>
<rect x="261.40" y="551.24" width="69.40" height="15.92" fill="#e6c8bd"/>
<rect x="262.70" y="552.54" width="66.80" height="13.32" fill="none" stroke="#f8dacf" stroke-width="1.0"/>
<rect x="330.80" y="551.24" width="69.20" height="15.92" fill="#e6c8bd"/>
<rect x="332.10" y="552.54" width="66.60" height="13.32" fill="none" stroke="#f8dacf" stroke-width="1.0"/>
<rect x="400.00" y="551.24" width="69.50" height="15.92" fill="#cc8e81"/>
<rect x="401.30" y="552.54" width="66.90" height="13.32" fill="none" stroke="#e3a191" stroke-width="1.0"/>
<rect x="53.80" y="567.16" width="69.10" height="15.92" fill="#e6c8bd"/>
<rect x="55.10" y="568.46" width="66.50" height="13.32" fill="none" stroke="#f8dacf" stroke-width="1.0"/>
<rect x="122.90" y="567.16" width="69.30" height="15.92" fill="#cc8e81"/>
<rect x="124.20" y="568.46" width="66.70" height="13.32" fill="none" stroke="#e3a191" stroke-width="1.0"/>
<rect x="192.20" y="567.16" width="69.20" height="15.92" fill="#cc8e81"/>
<rect x="193.50" y="568.46" width="66.60" height="13.32" fill="none" stroke="#e3a191" stroke-width="1.0"/>
<rect x="261.40" y="567.16" width="69.40" height="15.92" fill="#cc8e81"/>
<rect x="262.70" y="568.46" width="66.80" height="13.32" fill="none" stroke="#e3a191" stroke-width="1.0"/>
<rect x="330.80" y="567.16" width="69.20" height="15.92" fill="#e6c8bd"/>
<rect x="332.10" y="568.46" width="66.60" height="13.32" fill="none" stroke="#f8dacf" stroke-width="1.0"/>
<rect x="400.00" y="567.16" width="69.50" height="15.92" fill="#cc8e81"/>
<rect x="401.30" y="568.46" width="66.90" height="13.32" fill="none" stroke="#e3a191" stroke-width="1.0"/>
<rect x="53.80" y="583.08" width="69.10" height="15.92" fill="#e6c8bd"/>
<rect x="55.10" y="584.38" width="66.50" height="13.32" fill="none" stroke="#f8dacf" stroke-width="1.0"/>
<rect x="122.90" y="583.08" width="69.30" height="15.92" fill="#e6c8bd"/>
<rect x="124.20" y="584.38" width="66.70" height="13.32" fill="none" stroke="#f8dacf" stroke-width="1.0"/>
<rect x="192.20" y="583.08" width="69.20" height="15.92" fill="#e6c8bd"/>
<rect x="193.50" y="584.38" width="66.60" height="13.32" fill="none" stroke="#f8dacf" stroke-width="1.0"/>
<rect x="261.40" y="583.08" width="69.40" height="15.92" fill="#e6c8bd"/>
<rect x="262.70" y="584.38" width="66.80" height="13.32" fill="none" stroke="#f8dacf" stroke-width="1.0"/>
<rect x="330.80" y="583.08" width="69.20" height="15.92" fill="#e6c8bd"/>
<rect x="332.10" y="584.38" width="66.60" height="13.32" fill="none" stroke="#f8dacf" stroke-width="1.0"/>
<rect x="400.00" y="583.08" width="69.50" height="15.92" fill="#cc8e81"/>
<rect x="401.30" y="584.38" width="66.90" height="13.32" fill="none" stroke="#e3a191" stroke-width="1.0"/>
<rect x="53.80" y="599.00" width="69.10" height="15.92" fill="#e6c8bd"/>
<rect x="55.10" y="600.30" width="66.50" height="13.32" fill="none" stroke="#f8dacf" stroke-width="1.0"/>
<rect x="122.90" y="599.00" width="69.30" height="15.92" fill="#cc8e81"/>
<rect x="124.20" y="600.30" width="66.70" height="13.32" fill="none" stroke="#e3a191" stroke-width="1.0"/>
<rect x="192.20" y="599.00" width="69.20" height="15.92" fill="#e6c8bd"/>
<rect x="193.50" y="600.30" width="66.60" height="13.32" fill="none" stroke="#f8dacf" stroke-width="1.0"/>
<rect x="261.40" y="599.00" width="69.40" height="15.92" fill="#e6c8bd"/>
<rect x="262.70" y="600.30" width="66.80" height="13.32" fill="none" stroke="#f8dacf" stroke-width="1.0"/>
<rect x="330.80" y="599.00" width="69.20" height="15.92" fill="#e6c8bd"/>
<rect x="332.10" y="600.30" width="66.60" height="13.32" fill="none" stroke="#f8dacf" stroke-width="1.0"/>
<rect x="400.00" y="599.00" width="69.50" height="15.92" fill="#cc8e81"/>
<rect x="401.30" y="600.30" width="66.90" height="13.32" fill="none" stroke="#e3a191" stroke-width="1.0"/>
<rect x="53.80" y="614.92" width="69.10" height="15.92" fill="#e6c8bd"/>
<rect x="55.10" y="616.22" width="66.50" height="13.32" fill="none" stroke="#f8dacf" stroke-width="1.0"/>
<rect x="122.90" y="614.92" width="69.30" height="15.92" fill="#cc8e81"/>
<rect x="124.20" y="616.22" width="66.70" height="13.32" fill="none" stroke="#e3a191" stroke-width="1.0"/>
<rect x="192.20" y="614.92" width="69.20" height="15.92" fill="#e6c8bd"/>
<rect x="193.50" y="616.22" width="66.60" height="13.32" fill="none" stroke="#f8dacf" stroke-width="1.0"/>
<rect x="261.40" y="614.92" width="69.40" height="15.92" fill="#e6c8bd"/>
<rect x="262.70" y="616.22" width="66.80" height="13.32" fill="none" stroke="#f8dacf" stroke-width="1.0"/>
<rect x="330.80" y="614.92" width="69.20" height="15.92" fill="#e6c8bd"/>
<rect x="332.10" y="616.22" width="66.60" height="13.32" fill="none" stroke="#f8dacf" stroke-width="1.0"/>
<rect x="400.00" y="614.92" width="69.50" height="15.92" fill="#cc8e81"/>
<rect x="401.30" y="616.22" width="66.90" height="13.32" fill="none" stroke="#e3a191" stroke-width="1.0"/>
<rect x="53.80" y="630.84" width="69.10" height="15.92" fill="#e6c8bd"/>
<rect x="55.10" y="632.14" width="66.50" height="13.32" fill="none" stroke="#f8dacf" stroke-width="1.0"/>
<rect x="122.90" y="630.84" width="69.30" height="15.92" fill="#cc8e81"/>
<rect x="124.20" y="632.14" width="66.70" height="13.32" fill="none" stroke="#e3a191" stroke-width="1.0"/>
<rect x="192.20" y="630.84" width="69.20" height="15.92" fill="#cc8e81"/>
<rect x="193.50" y="632.14" width="66.60" height="13.32" fill="none" stroke="#e3a191" stroke-width="1.0"/>
<rect x="261.40" y="630.84" width="69.40" height="15.92" fill="#e6c8bd"/>
<rect x="262.70" y="632.14" width="66.80" height="13.32" fill="none" stroke="#f8dacf" stroke-width="1.0"/>
<rect x="330.80" y="630.84" width="69.20" height="15.92" fill="#e6c8bd"/>
<rect x="332.10" y="632.14" width="66.60" height="13.32" fill="none" stroke="#f8dacf" stroke-width="1.0"/>
<rect x="400.00" y="630.84" width="69.50" height="15.92" fill="#cc8e81"/>
<rect x="401.30" y="632.14" width="66.90" height="13.32" fill="none" stroke="#e3a191" stroke-width="1.0"/>
<rect x="53.80" y="646.76" width="69.10" height="15.92" fill="#e6c8bd"/>
<rect x="55.10" y="648.06" width="66.50" height="13.32" fill="none" stroke="#f8dacf" stroke-width="1.0"/>
<rect x="122.90" y="646.76" width="69.30" height="15.92" fill="#cc8e81"/>
<rect x="124.20" y="648.06" width="66.70" height="13.32" fill="none" stroke="#e3a191" stroke-width="1.0"/>
<rect x="192.20" y="646.76" width="69.20" height="15.92" fill="#e6c8bd"/>
<rect x="193.50" y="648.06" width="66.60" height="13.32" fill="none" stroke="#f8dacf" stroke-width="1.0"/>
<rect x="261.40" y="646.76" width="69.40" height="15.92" fill="#cc8e81"/>
<rect x="262.70" y="648.06" width="66.80" height="13.32" fill="none" stroke="#e3a191" stroke-width="1.0"/>
<rect x="330.80" y="646.76" width="69.20" height="15.92" fill="#e6c8bd"/>
<rect x="332.10" y="648.06" width="66.60" height="13.32" fill="none" stroke="#f8dacf" stroke-width="1.0"/>
<rect x="400.00" y="646.76" width="69.50" height="15.92" fill="#cc8e81"/>
<rect x="401.30" y="648.06" width="66.90" height="13.32" fill="none" stroke="#e3a191" stroke-width="1.0"/>
<rect x="53.80" y="662.68" width="69.10" height="15.92" fill="#e6c8bd"/>
<rect x="55.10" y="663.98" width="66.50" height="13.32" fill="none" stroke="#f8dacf" stroke-width="1.0"/>
<rect x="122.90" y="662.68" width="69.30" height="15.92" fill="#cc8e81"/>
<rect x="124.20" y="663.98" width="66.70" height="13.32" fill="none" stroke="#e3a191" stroke-width="1.0"/>
<rect x="192.20" y="662.68" width="69.20" height="15.92" fill="#e6c8bd"/>
<rect x="193.50" y="663.98" width="66.60" height="13.32" fill="none" stroke="#f8dacf" stroke-width="1.0"/>
<rect x="261.40" y="662.68" width="69.40" height="15.92" fill="#e6c8bd"/>
<rect x="262.70" y="663.98" width="66.80" height="13.32" fill="none" stroke="#f8dacf" stroke-width="1.0"/>
<rect x="330.80" y="662.68" width="69.20" height="15.92" fill="#e6c8bd"/>
<rect x="332.10" y="663.98" width="66.60" height="13.32" fill="none" stroke="#f8dacf" stroke-width="1.0"/>
<rect x="400.00" y="662.68" width="69.50" height="15.92" fill="#9299be"/>
<rect x="401.30" y="663.98" width="66.90" height="13.32" fill="none" stroke="#a4abd2" stroke-width="1.0"/>
<rect x="53.80" y="678.60" width="69.10" height="15.92" fill="#e6c8bd"/>
<rect x="55.10" y="679.90" width="66.50" height="13.32" fill="none" stroke="#f8dacf" stroke-width="1.0"/>
<rect x="122.90" y="678.60" width="69.30" height="15.92" fill="#cc8e81"/>
<rect x="124.20" y="679.90" width="66.70" height="13.32" fill="none" stroke="#e3a191" stroke-width="1.0"/>
<rect x="192.20" y="678.60" width="69.20" height="15.92" fill="#e6c8bd"/>
<rect x="193.50" y="679.90" width="66.60" height="13.32" fill="none" stroke="#f8dacf" stroke-width="1.0"/>
<rect x="261.40" y="678.60" width="69.40" height="15.92" fill="#e6c8bd"/>
<rect x="262.70" y="679.90" width="66.80" height="13.32" fill="none" stroke="#f8dacf" stroke-width="1.0"/>
<rect x="330.80" y="678.60" width="69.20" height="15.92" fill="#e6c8bd"/>
<rect x="332.10" y="679.90" width="66.60" height="13.32" fill="none" stroke="#f8dacf" stroke-width="1.0"/>
<rect x="400.00" y="678.60" width="69.50" height="15.92" fill="#cc8e81"/>
<rect x="401.30" y="679.90" width="66.90" height="13.32" fill="none" stroke="#e3a191" stroke-width="1.0"/>
<rect x="53.80" y="694.52" width="69.10" height="15.92" fill="#e6c8bd"/>
<rect x="55.10" y="695.82" width="66.50" height="13.32" fill="none" stroke="#f8dacf" stroke-width="1.0"/>
<rect x="122.90" y="694.52" width="69.30" height="15.92" fill="#e6c8bd"/>
<rect x="124.20" y="695.82" width="66.70" height="13.32" fill="none" stroke="#f8dacf" stroke-width="1.0"/>
<rect x="192.20" y="694.52" width="69.20" height="15.92" fill="#e6c8bd"/>
<rect x="193.50" y="695.82" width="66.60" height="13.32" fill="none" stroke="#f8dacf" stroke-width="1.0"/>
<rect x="261.40" y="694.52" width="69.40" height="15.92" fill="#cc8e81"/>
<rect x="262.70" y="695.82" width="66.80" height="13.32" fill="none" stroke="#e3a191" stroke-width="1.0"/>
<rect x="330.80" y="694.52" width="69.20" height="15.92" fill="#cc8e81"/>
<rect x="332.10" y="695.82" width="66.60" height="13.32" fill="none" stroke="#e3a191" stroke-width="1.0"/>
<rect x="400.00" y="694.52" width="69.50" height="15.92" fill="#cc8e81"/>
<rect x="401.30" y="695.82" width="66.90" height="13.32" fill="none" stroke="#e3a191" stroke-width="1.0"/>
<rect x="53.80" y="710.44" width="69.10" height="15.92" fill="#e6c8bd"/>
<rect x="55.10" y="711.74" width="66.50" height="13.32" fill="none" stroke="#f8dacf" stroke-width="1.0"/>
<rect x="122.90" y="710.44" width="69.30" height="15.92" fill="#cc8e81"/>
<rect x="124.20" y="711.74" width="66.70" height="13.32" fill="none" stroke="#e3a191" stroke-width="1.0"/>
<rect x="192.20" y="710.44" width="69.20" height="15.92" fill="#e6c8bd"/>
<rect x="193.50" y="711.74" width="66.60" height="13.32" fill="none" stroke="#f8dacf" stroke-width="1.0"/>
<rect x="261.40" y="710.44" width="69.40" height="15.92" fill="#cc8e81"/>
<rect x="262.70" y="711.74" width="66.80" height="13.32" fill="none" stroke="#e3a191" stroke-width="1.0"/>
<rect x="330.80" y="710.44" width="69.20" height="15.92" fill="#cc8e81"/>
<rect x="332.10" y="711.74" width="66.60" height="13.32" fill="none" stroke="#e3a191" stroke-width="1.0"/>
<rect x="400.00" y="710.44" width="69.50" height="15.92" fill="#cc8e81"/>
<rect x="401.30" y="711.74" width="66.90" height="13.32" fill="none" stroke="#e3a191" stroke-width="1.0"/>
<rect x="53.80" y="726.36" width="69.10" height="15.92" fill="#e6c8bd"/>
<rect x="55.10" y="727.66" width="66.50" height="13.32" fill="none" stroke="#f8dacf" stroke-width="1.0"/>
<rect x="122.90" y="726.36" width="69.30" height="15.92" fill="#cc8e81"/>
<rect x="124.20" y="727.66" width="66.70" height="13.32" fill="none" stroke="#e3a191" stroke-width="1.0"/>
<rect x="192.20" y="726.36" width="69.20" height="15.92" fill="#cc8e81"/>
<rect x="193.50" y="727.66" width="66.60" height="13.32" fill="none" stroke="#e3a191" stroke-width="1.0"/>
<rect x="261.40" y="726.36" width="69.40" height="15.92" fill="#cc8e81"/>
<rect x="262.70" y="727.66" width="66.80" height="13.32" fill="none" stroke="#e3a191" stroke-width="1.0"/>
<rect x="330.80" y="726.36" width="69.20" height="15.92" fill="#e6c8bd"/>
<rect x="332.10" y="727.66" width="66.60" height="13.32" fill="none" stroke="#f8dacf" stroke-width="1.0"/>
<rect x="400.00" y="726.36" width="69.50" height="15.92" fill="#cc8e81"/>
<rect x="401.30" y="727.66" width="66.90" height="13.32" fill="none" stroke="#e3a191" stroke-width="1.0"/>
<rect x="53.80" y="742.28" width="69.10" height="15.92" fill="#e6c8bd"/>
<rect x="55.10" y="743.58" width="66.50" height="13.32" fill="none" stroke="#f8dacf" stroke-width="1.0"/>
<rect x="122.90" y="742.28" width="69.30" height="15.92" fill="#cc8e81"/>
<rect x="124.20" y="743.58" width="66.70" height="13.32" fill="none" stroke="#e3a191" stroke-width="1.0"/>
<rect x="192.20" y="742.28" width="69.20" height="15.92" fill="#e6c8bd"/>
<rect x="193.50" y="743.58" width="66.60" height="13.32" fill="none" stroke="#f8dacf" stroke-width="1.0"/>
<rect x="261.40" y="742.28" width="69.40" height="15.92" fill="#e6c8bd"/>
<rect x="262.70" y="743.58" width="66.80" height="13.32" fill="none" stroke="#f8dacf" stroke-width="1.0"/>
<rect x="330.80" y="742.28" width="69.20" height="15.92" fill="#cc8e81"/>
<rect x="332.10" y="743.58" width="66.60" height="13.32" fill="none" stroke="#e3a191" stroke-width="1.0"/>
<rect x="400.00" y="742.28" width="69.50" height="15.92" fill="#cc8e81"/>
<rect x="401.30" y="743.58" width="66.90" height="13.32" fill="none" stroke="#e3a191" stroke-width="1.0"/>
<rect x="53.80" y="758.20" width="69.10" height="15.92" fill="#e6c8bd"/>
<rect x="55.10" y="759.50" width="66.50" height="13.32" fill="none" stroke="#f8dacf" stroke-width="1.0"/>
<rect x="122.90" y="758.20" width="69.30" height="15.92" fill="#e6c8bd"/>
<rect x="124.20" y="759.50" width="66.70" height="13.32" fill="none" stroke="#f8dacf" stroke-width="1.0"/>
<rect x="192.20" y="758.20" width="69.20" height="15.92" fill="#e6c8bd"/>
<rect x="193.50" y="759.50" width="66.60" height="13.32" fill="none" stroke="#f8dacf" stroke-width="1.0"/>
<rect x="261.40" y="758.20" width="69.40" height="15.92" fill="#e6c8bd"/>
<rect x="262.70" y="759.50" width="66.80" height="13.32" fill="none" stroke="#f8dacf" stroke-width="1.0"/>
<rect x="330.80" y="758.20" width="69.20" height="15.92" fill="#e6c8bd"/>
<rect x="332.10" y="759.50" width="66.60" height="13.32" fill="none" stroke="#f8dacf" stroke-width="1.0"/>
<rect x="400.00" y="758.20" width="69.50" height="15.92" fill="#cc8e81"/>
<rect x="401.30" y="759.50" width="66.90" height="13.32" fill="none" stroke="#e3a191" stroke-width="1.0"/>
<rect x="53.80" y="774.12" width="69.10" height="15.92" fill="#e6c8bd"/>
<rect x="55.10" y="775.42" width="66.50" height="13.32" fill="none" stroke="#f8dacf" stroke-width="1.0"/>
<rect x="122.90" y="774.12" width="69.30" height="15.92" fill="#e6c8bd"/>
<rect x="124.20" y="775.42" width="66.70" height="13.32" fill="none" stroke="#f8dacf" stroke-width="1.0"/>
<rect x="192.20" y="774.12" width="69.20" height="15.92" fill="#cc8e81"/>
<rect x="193.50" y="775.42" width="66.60" height="13.32" fill="none" stroke="#e3a191" stroke-width="1.0"/>
<rect x="261.40" y="774.12" width="69.40" height="15.92" fill="#e6c8bd"/>
<rect x="262.70" y="775.42" width="66.80" height="13.32" fill="none" stroke="#f8dacf" stroke-width="1.0"/>
<rect x="330.80" y="774.12" width="69.20" height="15.92" fill="#e6c8bd"/>
<rect x="332.10" y="775.42" width="66.60" height="13.32" fill="none" stroke="#f8dacf" stroke-width="1.0"/>
<rect x="400.00" y="774.12" width="69.50" height="15.92" fill="#cc8e81"/>
<rect x="401.30" y="775.42" width="66.90" height="13.32" fill="none" stroke="#e3a191" stroke-width="1.0"/>
<rect x="53.80" y="790.04" width="69.10" height="15.92" fill="#e6c8bd"/>
<rect x="55.10" y="791.34" width="66.50" height="13.32" fill="none" stroke="#f8dacf" stroke-width="1.0"/>
<rect x="122.90" y="790.04" width="69.30" height="15.92" fill="#e6c8bd"/>
<rect x="124.20" y="791.34" width="66.70" height="13.32" fill="none" stroke="#f8dacf" stroke-width="1.0"/>
<rect x="192.20" y="790.04" width="69.20" height="15.92" fill="#e6c8bd"/>
<rect x="193.50" y="791.34" width="66.60" height="13.32" fill="none" stroke="#f8dacf" stroke-width="1.0"/>
<rect x="261.40" y="790.04" width="69.40" height="15.92" fill="#e6c8bd"/>
<rect x="262.70" y="791.34" width="66.80" height="13.32" fill="none" stroke="#f8dacf" stroke-width="1.0"/>
<rect x="330.80" y="790.04" width="69.20" height="15.92" fill="#e6c8bd"/>
<rect x="332.10" y="791.34" width="66.60" height="13.32" fill="none" stroke="#f8dacf" stroke-width="1.0"/>
<rect x="400.00" y="790.04" width="69.50" height="15.92" fill="#cc8e81"/>
<rect x="401.30" y="791.34" width="66.90" height="13.32" fill="none" stroke="#e3a191" stroke-width="1.0"/>
<rect x="53.80" y="805.96" width="69.10" height="15.92" fill="#e6c8bd"/>
<rect x="55.10" y="807.26" width="66.50" height="13.32" fill="none" stroke="#f8dacf" stroke-width="1.0"/>
<rect x="122.90" y="805.96" width="69.30" height="15.92" fill="#cc8e81"/>
<rect x="124.20" y="807.26" width="66.70" height="13.32" fill="none" stroke="#e3a191" stroke-width="1.0"/>
<rect x="192.20" y="805.96" width="69.20" height="15.92" fill="#cc8e81"/>
<rect x="193.50" y="807.26" width="66.60" height="13.32" fill="none" stroke="#e3a191" stroke-width="1.0"/>
<rect x="261.40" y="805.96" width="69.40" height="15.92" fill="#cc8e81"/>
<rect x="262.70" y="807.26" width="66.80" height="13.32" fill="none" stroke="#e3a191" stroke-width="1.0"/>
<rect x="330.80" y="805.96" width="69.20" height="15.92" fill="#e6c8bd"/>
<rect x="332.10" y="807.26" width="66.60" height="13.32" fill="none" stroke="#f8dacf" stroke-width="1.0"/>
<rect x="400.00" y="805.96" width="69.50" height="15.92" fill="#9299be"/>
<rect x="401.30" y="807.26" width="66.90" height="13.32" fill="none" stroke="#a4abd2" stroke-width="1.0"/>
<rect x="53.80" y="821.88" width="69.10" height="15.92" fill="#e6c8bd"/>
<rect x="55.10" y="823.18" width="66.50" height="13.32" fill="none" stroke="#f8dacf" stroke-width="1.0"/>
<rect x="122.90" y="821.88" width="69.30" height="15.92" fill="#cc8e81"/>
<rect x="124.20" y="823.18" width="66.70" height="13.32" fill="none" stroke="#e3a191" stroke-width="1.0"/>
<rect x="192.20" y="821.88" width="69.20" height="15.92" fill="#e6c8bd"/>
<rect x="193.50" y="823.18" width="66.60" height="13.32" fill="none" stroke="#f8dacf" stroke-width="1.0"/>
<rect x="261.40" y="821.88" width="69.40" height="15.92" fill="#e6c8bd"/>
<rect x="262.70" y="823.18" width="66.80" height="13.32" fill="none" stroke="#f8dacf" stroke-width="1.0"/>
<rect x="330.80" y="821.88" width="69.20" height="15.92" fill="#cc8e81"/>
<rect x="332.10" y="823.18" width="66.60" height="13.32" fill="none" stroke="#e3a191" stroke-width="1.0"/>
<rect x="400.00" y="821.88" width="69.50" height="15.92" fill="#cc8e81"/>
<rect x="401.30" y="823.18" width="66.90" height="13.32" fill="none" stroke="#e3a191" stroke-width="1.0"/>
<rect x="53.80" y="837.80" width="69.10" height="15.92" fill="#e6c8bd"/>
<rect x="55.10" y="839.10" width="66.50" height="13.32" fill="none" stroke="#f8dacf" stroke-width="1.0"/>
<rect x="122.90" y="837.80" width="69.30" height="15.92" fill="#cc8e81"/>
<rect x="124.20" y="839.10" width="66.70" height="13.32" fill="none" stroke="#e3a191" stroke-width="1.0"/>
<rect x="192.20" y="837.80" width="69.20" height="15.92" fill="#e6c8bd"/>
<rect x="193.50" y="839.10" width="66.60" height="13.32" fill="none" stroke="#f8dacf" stroke-width="1.0"/>
<rect x="261.40" y="837.80" width="69.40" height="15.92" fill="#e6c8bd"/>
<rect x="262.70" y="839.10" width="66.80" height="13.32" fill="none" stroke="#f8dacf" stroke-width="1.0"/>
<rect x="330.80" y="837.80" width="69.20" height="15.92" fill="#cc8e81"/>
<rect x="332.10" y="839.10" width="66.60" height="13.32" fill="none" stroke="#e3a191" stroke-width="1.0"/>
<rect x="400.00" y="837.80" width="69.50" height="15.92" fill="#cc8e81"/>
<rect x="401.30" y="839.10" width="66.90" height="13.32" fill="none" stroke="#e3a191" stroke-width="1.0"/>
<rect x="53.80" y="853.72" width="69.10" height="15.92" fill="#e6c8bd"/>
<rect x="55.10" y="855.02" width="66.50" height="13.32" fill="none" stroke="#f8dacf" stroke-width="1.0"/>
<rect x="122.90" y="853.72" width="69.30" height="15.92" fill="#e6c8bd"/>
<rect x="124.20" y="855.02" width="66.70" height="13.32" fill="none" stroke="#f8dacf" stroke-width="1.0"/>
<rect x="192.20" y="853.72" width="69.20" height="15.92" fill="#e6c8bd"/>
<rect x="193.50" y="855.02" width="66.60" height="13.32" fill="none" stroke="#f8dacf" stroke-width="1.0"/>
<rect x="261.40" y="853.72" width="69.40" height="15.92" fill="#e6c8bd"/>
<rect x="262.70" y="855.02" width="66.80" height="13.32" fill="none" stroke="#f8dacf" stroke-width="1.0"/>
<rect x="330.80" y="853.72" width="69.20" height="15.92" fill="#e6c8bd"/>
<rect x="332.10" y="855.02" width="66.60" height="13.32" fill="none" stroke="#f8dacf" stroke-width="1.0"/>
<rect x="400.00" y="853.72" width="69.50" height="15.92" fill="#cc8e81"/>
<rect x="401.30" y="855.02" width="66.90" height="13.32" fill="none" stroke="#e3a191" stroke-width="1.0"/>
<rect x="53.80" y="869.64" width="69.10" height="15.92" fill="#e6c8bd"/>
<rect x="55.10" y="870.94" width="66.50" height="13.32" fill="none" stroke="#f8dacf" stroke-width="1.0"/>
<rect x="122.90" y="869.64" width="69.30" height="15.92" fill="#cc8e81"/>
<rect x="124.20" y="870.94" width="66.70" height="13.32" fill="none" stroke="#e3a191" stroke-width="1.0"/>
<rect x="192.20" y="869.64" width="69.20" height="15.92" fill="#e6c8bd"/>
<rect x="193.50" y="870.94" width="66.60" height="13.32" fill="none" stroke="#f8dacf" stroke-width="1.0"/>
<rect x="261.40" y="869.64" width="69.40" height="15.92" fill="#e6c8bd"/>
<rect x="262.70" y="870.94" width="66.80" height="13.32" fill="none" stroke="#f8dacf" stroke-width="1.0"/>
<rect x="330.80" y="869.64" width="69.20" height="15.92" fill="#cc8e81"/>
<rect x="332.10" y="870.94" width="66.60" height="13.32" fill="none" stroke="#e3a191" stroke-width="1.0"/>
<rect x="400.00" y="869.64" width="69.50" height="15.92" fill="#e6c8bd"/>
<rect x="401.30" y="870.94" width="66.90" height="13.32" fill="none" stroke="#f8dacf" stroke-width="1.0"/>
<rect x="53.80" y="885.56" width="69.10" height="15.92" fill="#e6c8bd"/>
<rect x="55.10" y="886.86" width="66.50" height="13.32" fill="none" stroke="#f8dacf" stroke-width="1.0"/>
<rect x="122.90" y="885.56" width="69.30" height="15.92" fill="#cc8e81"/>
<rect x="124.20" y="886.86" width="66.70" height="13.32" fill="none" stroke="#e3a191" stroke-width="1.0"/>
<rect x="192.20" y="885.56" width="69.20" height="15.92" fill="#e6c8bd"/>
<rect x="193.50" y="886.86" width="66.60" height="13.32" fill="none" stroke="#f8dacf" stroke-width="1.0"/>
<rect x="261.40" y="885.56" width="69.40" height="15.92" fill="#e6c8bd"/>
<rect x="262.70" y="886.86" width="66.80" height="13.32" fill="none" stroke="#f8dacf" stroke-width="1.0"/>
<rect x="330.80" y="885.56" width="69.20" height="15.92" fill="#e6c8bd"/>
<rect x="332.10" y="886.86" width="66.60" height="13.32" fill="none" stroke="#f8dacf" stroke-width="1.0"/>
<rect x="400.00" y="885.56" width="69.50" height="15.92" fill="#cc8e81"/>
<rect x="401.30" y="886.86" width="66.90" height="13.32" fill="none" stroke="#e3a191" stroke-width="1.0"/>
<rect x="53.80" y="901.48" width="69.10" height="15.92" fill="#e6c8bd"/>
<rect x="55.10" y="902.78" width="66.50" height="13.32" fill="none" stroke="#f8dacf" stroke-width="1.0"/>
<rect x="122.90" y="901.48" width="69.30" height="15.92" fill="#e6c8bd"/>
<rect x="124.20" y="902.78" width="66.70" height="13.32" fill="none" stroke="#f8dacf" stroke-width="1.0"/>
<rect x="192.20" y="901.48" width="69.20" height="15.92" fill="#e6c8bd"/>
<rect x="193.50" y="902.78" width="66.60" height="13.32" fill="none" stroke="#f8dacf" stroke-width="1.0"/>
<rect x="261.40" y="901.48" width="69.40" height="15.92" fill="#e6c8bd"/>
<rect x="262.70" y="902.78" width="66.80" height="13.32" fill="none" stroke="#f8dacf" stroke-width="1.0"/>
<rect x="330.80" y="901.48" width="69.20" height="15.92" fill="#cc8e81"/>
<rect x="332.10" y="902.78" width="66.60" height="13.32" fill="none" stroke="#e3a191" stroke-width="1.0"/>
<rect x="400.00" y="901.48" width="69.50" height="15.92" fill="#e6c8bd"/>
<rect x="401.30" y="902.78" width="66.90" height="13.32" fill="none" stroke="#f8dacf" stroke-width="1.0"/>
<rect x="53.80" y="917.40" width="69.10" height="15.92" fill="#e6c8bd"/>
<rect x="55.10" y="918.70" width="66.50" height="13.32" fill="none" stroke="#f8dacf" stroke-width="1.0"/>
<rect x="122.90" y="917.40" width="69.30" height="15.92" fill="#e6c8bd"/>
<rect x="124.20" y="918.70" width="66.70" height="13.32" fill="none" stroke="#f8dacf" stroke-width="1.0"/>
<rect x="192.20" y="917.40" width="69.20" height="15.92" fill="#e6c8bd"/>
<rect x="193.50" y="918.70" width="66.60" height="13.32" fill="none" stroke="#f8dacf" stroke-width="1.0"/>
<rect x="261.40" y="917.40" width="69.40" height="15.92" fill="#e6c8bd"/>
<rect x="262.70" y="918.70" width="66.80" height="13.32" fill="none" stroke="#f8dacf" stroke-width="1.0"/>
<rect x="330.80" y="917.40" width="69.20" height="15.92" fill="#cc8e81"/>
<rect x="332.10" y="918.70" width="66.60" height="13.32" fill="none" stroke="#e3a191" stroke-width="1.0"/>
<rect x="400.00" y="917.40" width="69.50" height="15.92" fill="#e6c8bd"/>
<rect x="401.30" y="918.70" width="66.90" height="13.32" fill="none" stroke="#f8dacf" stroke-width="1.0"/>
<rect x="53.80" y="933.32" width="69.10" height="15.92" fill="#e6c8bd"/>
<rect x="55.10" y="934.62" width="66.50" height="13.32" fill="none" stroke="#f8dacf" stroke-width="1.0"/>
<rect x="122.90" y="933.32" width="69.30" height="15.92" fill="#cc8e81"/>
<rect x="124.20" y="934.62" width="66.70" height="13.32" fill="none" stroke="#e3a191" stroke-width="1.0"/>
<rect x="192.20" y="933.32" width="69.20" height="15.92" fill="#e6c8bd"/>
<rect x="193.50" y="934.62" width="66.60" height="13.32" fill="none" stroke="#f8dacf" stroke-width="1.0"/>
<rect x="261.40" y="933.32" width="69.40" height="15.92" fill="#e6c8bd"/>
<rect x="262.70" y="934.62" width="66.80" height="13.32" fill="none" stroke="#f8dacf" stroke-width="1.0"/>
<rect x="330.80" y="933.32" width="69.20" height="15.92" fill="#cc8e81"/>
<rect x="332.10" y="934.62" width="66.60" height="13.32" fill="none" stroke="#e3a191" stroke-width="1.0"/>
<rect x="400.00" y="933.32" width="69.50" height="15.92" fill="#e6c8bd"/>
<rect x="401.30" y="934.62" width="66.90" height="13.32" fill="none" stroke="#f8dacf" stroke-width="1.0"/>
<rect x="53.80" y="949.24" width="69.10" height="15.92" fill="#e6c8bd"/>
<rect x="55.10" y="950.54" width="66.50" height="13.32" fill="none" stroke="#f8dacf" stroke-width="1.0"/>
<rect x="122.90" y="949.24" width="69.30" height="15.92" fill="#e6c8bd"/>
<rect x="124.20" y="950.54" width="66.70" height="13.32" fill="none" stroke="#f8dacf" stroke-width="1.0"/>
<rect x="192.20" y="949.24" width="69.20" height="15.92" fill="#cc8e81"/>
<rect x="193.50" y="950.54" width="66.60" height="13.32" fill="none" stroke="#e3a191" stroke-width="1.0"/>
<rect x="261.40" y="949.24" width="69.40" height="15.92" fill="#e6c8bd"/>
<rect x="262.70" y="950.54" width="66.80" height="13.32" fill="none" stroke="#f8dacf" stroke-width="1.0"/>
<rect x="330.80" y="949.24" width="69.20" height="15.92" fill="#cc8e81"/>
<rect x="332.10" y="950.54" width="66.60" height="13.32" fill="none" stroke="#e3a191" stroke-width="1.0"/>
<rect x="400.00" y="949.24" width="69.50" height="15.92" fill="#e6c8bd"/>
<rect x="401.30" y="950.54" width="66.90" height="13.32" fill="none" stroke="#f8dacf" stroke-width="1.0"/>
<rect x="53.80" y="965.16" width="69.10" height="15.92" fill="#e6c8bd"/>
<rect x="55.10" y="966.46" width="66.50" height="13.32" fill="none" stroke="#f8dacf" stroke-width="1.0"/>
<rect x="122.90" y="965.16" width="69.30" height="15.92" fill="#cc8e81"/>
<rect x="124.20" y="966.46" width="66.70" height="13.32" fill="none" stroke="#e3a191" stroke-width="1.0"/>
<rect x="192.20" y="965.16" width="69.20" height="15.92" fill="#e6c8bd"/>
<rect x="193.50" y="966.46" width="66.60" height="13.32" fill="none" stroke="#f8dacf" stroke-width="1.0"/>
<rect x="261.40" y="965.16" width="69.40" height="15.92" fill="#e6c8bd"/>
<rect x="262.70" y="966.46" width="66.80" height="13.32" fill="none" stroke="#f8dacf" stroke-width="1.0"/>
<rect x="330.80" y="965.16" width="69.20" height="15.92" fill="#cc8e81"/>
<rect x="332.10" y="966.46" width="66.60" height="13.32" fill="none" stroke="#e3a191" stroke-width="1.0"/>
<rect x="400.00" y="965.16" width="69.50" height="15.92" fill="#cc8e81"/>
<rect x="401.30" y="966.46" width="66.90" height="13.32" fill="none" stroke="#e3a191" stroke-width="1.0"/>
<rect x="53.80" y="981.08" width="69.10" height="15.92" fill="#e6c8bd"/>
<rect x="55.10" y="982.38" width="66.50" height="13.32" fill="none" stroke="#f8dacf" stroke-width="1.0"/>
<rect x="122.90" y="981.08" width="69.30" height="15.92" fill="#cc8e81"/>
<rect x="124.20" y="982.38" width="66.70" height="13.32" fill="none" stroke="#e3a191" stroke-width="1.0"/>
<rect x="192.20" y="981.08" width="69.20" height="15.92" fill="#e6c8bd"/>
<rect x="193.50" y="982.38" width="66.60" height="13.32" fill="none" stroke="#f8dacf" stroke-width="1.0"/>
<rect x="261.40" y="981.08" width="69.40" height="15.92" fill="#cc8e81"/>
<rect x="262.70" y="982.38" width="66.80" height="13.32" fill="none" stroke="#e3a191" stroke-width="1.0"/>
<rect x="330.80" y="981.08" width="69.20" height="15.92" fill="#cc8e81"/>
<rect x="332.10" y="982.38" width="66.60" height="13.32" fill="none" stroke="#e3a191" stroke-width="1.0"/>
<rect x="400.00" y="981.08" width="69.50" height="15.92" fill="#e6c8bd"/>
<rect x="401.30" y="982.38" width="66.90" height="13.32" fill="none" stroke="#f8dacf" stroke-width="1.0"/>
<rect x="53.80" y="997.00" width="69.10" height="15.92" fill="#e6c8bd"/>
<rect x="55.10" y="998.30" width="66.50" height="13.32" fill="none" stroke="#f8dacf" stroke-width="1.0"/>
<rect x="122.90" y="997.00" width="69.30" height="15.92" fill="#cc8e81"/>
<rect x="124.20" y="998.30" width="66.70" height="13.32" fill="none" stroke="#e3a191" stroke-width="1.0"/>
<rect x="192.20" y="997.00" width="69.20" height="15.92" fill="#e6c8bd"/>
<rect x="193.50" y="998.30" width="66.60" height="13.32" fill="none" stroke="#f8dacf" stroke-width="1.0"/>
<rect x="261.40" y="997.00" width="69.40" height="15.92" fill="#e6c8bd"/>
<rect x="262.70" y="998.30" width="66.80" height="13.32" fill="none" stroke="#f8dacf" stroke-width="1.0"/>
<rect x="330.80" y="997.00" width="69.20" height="15.92" fill="#cc8e81"/>
<rect x="332.10" y="998.30" width="66.60" height="13.32" fill="none" stroke="#e3a191" stroke-width="1.0"/>
<rect x="400.00" y="997.00" width="69.50" height="15.92" fill="#e6c8bd"/>
<rect x="401.30" y="998.30" width="66.90" height="13.32" fill="none" stroke="#f8dacf" stroke-width="1.0"/>
<rect x="53.80" y="1012.92" width="69.10" height="15.92" fill="#e6c8bd"/>
<rect x="55.10" y="1014.22" width="66.50" height="13.32" fill="none" stroke="#f8dacf" stroke-width="1.0"/>
<rect x="122.90" y="1012.92" width="69.30" height="15.92" fill="#e6c8bd"/>
<rect x="124.20" y="1014.22" width="66.70" height="13.32" fill="none" stroke="#f8dacf" stroke-width="1.0"/>
<rect x="192.20" y="1012.92" width="69.20" height="15.92" fill="#e6c8bd"/>
<rect x="193.50" y="1014.22" width="66.60" height="13.32" fill="none" stroke="#f8dacf" stroke-width="1.0"/>
<rect x="261.40" y="1012.92" width="69.40" height="15.92" fill="#e6c8bd"/>
<rect x="262.70" y="1014.22" width="66.80" height="13.32" fill="none" stroke="#f8dacf" stroke-width="1.0"/>
<rect x="330.80" y="1012.92" width="69.20" height="15.92" fill="#cc8e81"/>
<rect x="332.10" y="1014.22" width="66.60" height="13.32" fill="none" stroke="#e3a191" stroke-width="1.0"/>
<rect x="400.00" y="1012.92" width="69.50" height="15.92" fill="#e6c8bd"/>
<rect x="401.30" y="1014.22" width="66.90" height="13.32" fill="none" stroke="#f8dacf" stroke-width="1.0"/>
<rect x="53.80" y="1028.84" width="69.10" height="15.92" fill="#e6c8bd"/>
<rect x="55.10" y="1030.14" width="66.50" height="13.32" fill="none" stroke="#f8dacf" stroke-width="1.0"/>
<rect x="122.90" y="1028.84" width="69.30" height="15.92" fill="#cc8e81"/>
<rect x="124.20" y="1030.14" width="66.70" height="13.32" fill="none" stroke="#e3a191" stroke-width="1.0"/>
<rect x="192.20" y="1028.84" width="69.20" height="15.92" fill="#e6c8bd"/>
<rect x="193.50" y="1030.14" width="66.60" height="13.32" fill="none" stroke="#f8dacf" stroke-width="1.0"/>
<rect x="261.40" y="1028.84" width="69.40" height="15.92" fill="#e6c8bd"/>
<rect x="262.70" y="1030.14" width="66.80" height="13.32" fill="none" stroke="#f8dacf" stroke-width="1.0"/>
<rect x="330.80" y="1028.84" width="69.20" height="15.92" fill="#cc8e81"/>
<rect x="332.10" y="1030.14" width="66.60" height="13.32" fill="none" stroke="#e3a191" stroke-width="1.0"/>
<rect x="400.00" y="1028.84" width="69.50" height="15.92" fill="#e6c8bd"/>
<rect x="401.30" y="1030.14" width="66.90" height="13.32" fill="none" stroke="#f8dacf" stroke-width="1.0"/>
<rect x="53.80" y="1044.76" width="69.10" height="15.92" fill="#e6c8bd"/>
<rect x="55.10" y="1046.06" width="66.50" height="13.32" fill="none" stroke="#f8dacf" stroke-width="1.0"/>
<rect x="122.90" y="1044.76" width="69.30" height="15.92" fill="#e6c8bd"/>
<rect x="124.20" y="1046.06" width="66.70" height="13.32" fill="none" stroke="#f8dacf" stroke-width="1.0"/>
<rect x="192.20" y="1044.76" width="69.20" height="15.92" fill="#e6c8bd"/>
<rect x="193.50" y="1046.06" width="66.60" height="13.32" fill="none" stroke="#f8dacf" stroke-width="1.0"/>
<rect x="261.40" y="1044.76" width="69.40" height="15.92" fill="#e6c8bd"/>
<rect x="262.70" y="1046.06" width="66.80" height="13.32" fill="none" stroke="#f8dacf" stroke-width="1.0"/>
<rect x="330.80" y="1044.76" width="69.20" height="15.92" fill="#cc8e81"/>
<rect x="332.10" y="1046.06" width="66.60" height="13.32" fill="none" stroke="#e3a191" stroke-width="1.0"/>
<rect x="400.00" y="1044.76" width="69.50" height="15.92" fill="#e6c8bd"/>
<rect x="401.30" y="1046.06" width="66.90" height="13.32" fill="none" stroke="#f8dacf" stroke-width="1.0"/>
<rect x="53.80" y="1060.68" width="69.10" height="15.92" fill="#e6c8bd"/>
<rect x="55.10" y="1061.98" width="66.50" height="13.32" fill="none" stroke="#f8dacf" stroke-width="1.0"/>
<rect x="122.90" y="1060.68" width="69.30" height="15.92" fill="#cc8e81"/>
<rect x="124.20" y="1061.98" width="66.70" height="13.32" fill="none" stroke="#e3a191" stroke-width="1.0"/>
<rect x="192.20" y="1060.68" width="69.20" height="15.92" fill="#e6c8bd"/>
<rect x="193.50" y="1061.98" width="66.60" height="13.32" fill="none" stroke="#f8dacf" stroke-width="1.0"/>
<rect x="261.40" y="1060.68" width="69.40" height="15.92" fill="#e6c8bd"/>
<rect x="262.70" y="1061.98" width="66.80" height="13.32" fill="none" stroke="#f8dacf" stroke-width="1.0"/>
<rect x="330.80" y="1060.68" width="69.20" height="15.92" fill="#cc8e81"/>
<rect x="332.10" y="1061.98" width="66.60" height="13.32" fill="none" stroke="#e3a191" stroke-width="1.0"/>
<rect x="400.00" y="1060.68" width="69.50" height="15.92" fill="#e6c8bd"/>
<rect x="401.30" y="1061.98" width="66.90" height="13.32" fill="none" stroke="#f8dacf" stroke-width="1.0"/>
<rect x="53.80" y="1076.60" width="69.10" height="15.92" fill="#e6c8bd"/>
<rect x="55.10" y="1077.90" width="66.50" height="13.32" fill="none" stroke="#f8dacf" stroke-width="1.0"/>
<rect x="122.90" y="1076.60" width="69.30" height="15.92" fill="#cc8e81"/>
<rect x="124.20" y="1077.90" width="66.70" height="13.32" fill="none" stroke="#e3a191" stroke-width="1.0"/>
<rect x="192.20" y="1076.60" width="69.20" height="15.92" fill="#e6c8bd"/>
<rect x="193.50" y="1077.90" width="66.60" height="13.32" fill="none" stroke="#f8dacf" stroke-width="1.0"/>
<rect x="261.40" y="1076.60" width="69.40" height="15.92" fill="#e6c8bd"/>
<rect x="262.70" y="1077.90" width="66.80" height="13.32" fill="none" stroke="#f8dacf" stroke-width="1.0"/>
<rect x="330.80" y="1076.60" width="69.20" height="15.92" fill="#cc8e81"/>
<rect x="332.10" y="1077.90" width="66.60" height="13.32" fill="none" stroke="#e3a191" stroke-width="1.0"/>
<rect x="400.00" y="1076.60" width="69.50" height="15.92" fill="#e6c8bd"/>
<rect x="401.30" y="1077.90" width="66.90" height="13.32" fill="none" stroke="#f8dacf" stroke-width="1.0"/>
<rect x="53.80" y="1092.52" width="69.10" height="15.92" fill="#e6c8bd"/>
<rect x="55.10" y="1093.82" width="66.50" height="13.32" fill="none" stroke="#f8dacf" stroke-width="1.0"/>
<rect x="122.90" y="1092.52" width="69.30" height="15.92" fill="#e6c8bd"/>
<rect x="124.20" y="1093.82" width="66.70" height="13.32" fill="none" stroke="#f8dacf" stroke-width="1.0"/>
<rect x="192.20" y="1092.52" width="69.20" height="15.92" fill="#e6c8bd"/>
<rect x="193.50" y="1093.82" width="66.60" height="13.32" fill="none" stroke="#f8dacf" stroke-width="1.0"/>
<rect x="261.40" y="1092.52" width="69.40" height="15.92" fill="#e6c8bd"/>
<rect x="262.70" y="1093.82" width="66.80" height="13.32" fill="none" stroke="#f8dacf" stroke-width="1.0"/>
<rect x="330.80" y="1092.52" width="69.20" height="15.92" fill="#e6c8bd"/>
<rect x="332.10" y="1093.82" width="66.60" height="13.32" fill="none" stroke="#f8dacf" stroke-width="1.0"/>
<rect x="400.00" y="1092.52" width="69.50" height="15.92" fill="#9299be"/>
<rect x="401.30" y="1093.82" width="66.90" height="13.32" fill="none" stroke="#a4abd2" stroke-width="1.0"/>
<rect x="53.80" y="1108.44" width="69.10" height="15.92" fill="#e6c8bd"/>
<rect x="55.10" y="1109.74" width="66.50" height="13.32" fill="none" stroke="#f8dacf" stroke-width="1.0"/>
<rect x="122.90" y="1108.44" width="69.30" height="15.92" fill="#cc8e81"/>
<rect x="124.20" y="1109.74" width="66.70" height="13.32" fill="none" stroke="#e3a191" stroke-width="1.0"/>
<rect x="192.20" y="1108.44" width="69.20" height="15.92" fill="#e6c8bd"/>
<rect x="193.50" y="1109.74" width="66.60" height="13.32" fill="none" stroke="#f8dacf" stroke-width="1.0"/>
<rect x="261.40" y="1108.44" width="69.40" height="15.92" fill="#e6c8bd"/>
<rect x="262.70" y="1109.74" width="66.80" height="13.32" fill="none" stroke="#f8dacf" stroke-width="1.0"/>
<rect x="330.80" y="1108.44" width="69.20" height="15.92" fill="#cc8e81"/>
<rect x="332.10" y="1109.74" width="66.60" height="13.32" fill="none" stroke="#e3a191" stroke-width="1.0"/>
<rect x="400.00" y="1108.44" width="69.50" height="15.92" fill="#e6c8bd"/>
<rect x="401.30" y="1109.74" width="66.90" height="13.32" fill="none" stroke="#f8dacf" stroke-width="1.0"/>
<rect x="53.80" y="1124.36" width="69.10" height="15.92" fill="#e6c8bd"/>
<rect x="55.10" y="1125.66" width="66.50" height="13.32" fill="none" stroke="#f8dacf" stroke-width="1.0"/>
<rect x="122.90" y="1124.36" width="69.30" height="15.92" fill="#cc8e81"/>
<rect x="124.20" y="1125.66" width="66.70" height="13.32" fill="none" stroke="#e3a191" stroke-width="1.0"/>
<rect x="192.20" y="1124.36" width="69.20" height="15.92" fill="#e6c8bd"/>
<rect x="193.50" y="1125.66" width="66.60" height="13.32" fill="none" stroke="#f8dacf" stroke-width="1.0"/>
<rect x="261.40" y="1124.36" width="69.40" height="15.92" fill="#e6c8bd"/>
<rect x="262.70" y="1125.66" width="66.80" height="13.32" fill="none" stroke="#f8dacf" stroke-width="1.0"/>
<rect x="330.80" y="1124.36" width="69.20" height="15.92" fill="#cc8e81"/>
<rect x="332.10" y="1125.66" width="66.60" height="13.32" fill="none" stroke="#e3a191" stroke-width="1.0"/>
<rect x="400.00" y="1124.36" width="69.50" height="15.92" fill="#e6c8bd"/>
<rect x="401.30" y="1125.66" width="66.90" height="13.32" fill="none" stroke="#f8dacf" stroke-width="1.0"/>
<rect x="53.80" y="1140.28" width="69.10" height="15.92" fill="#e6c8bd"/>
<rect x="55.10" y="1141.58" width="66.50" height="13.32" fill="none" stroke="#f8dacf" stroke-width="1.0"/>
<rect x="122.90" y="1140.28" width="69.30" height="15.92" fill="#e6c8bd"/>
<rect x="124.20" y="1141.58" width="66.70" height="13.32" fill="none" stroke="#f8dacf" stroke-width="1.0"/>
<rect x="192.20" y="1140.28" width="69.20" height="15.92" fill="#e6c8bd"/>
<rect x="193.50" y="1141.58" width="66.60" height="13.32" fill="none" stroke="#f8dacf" stroke-width="1.0"/>
<rect x="261.40" y="1140.28" width="69.40" height="15.92" fill="#e6c8bd"/>
<rect x="262.70" y="1141.58" width="66.80" height="13.32" fill="none" stroke="#f8dacf" stroke-width="1.0"/>
<rect x="330.80" y="1140.28" width="69.20" height="15.92" fill="#cc8e81"/>
<rect x="332.10" y="1141.58" width="66.60" height="13.32" fill="none" stroke="#e3a191" stroke-width="1.0"/>
<rect x="400.00" y="1140.28" width="69.50" height="15.92" fill="#e6c8bd"/>
<rect x="401.30" y="1141.58" width="66.90" height="13.32" fill="none" stroke="#f8dacf" stroke-width="1.0"/>
<rect x="53.80" y="1156.20" width="69.10" height="15.92" fill="#e6c8bd"/>
<rect x="55.10" y="1157.50" width="66.50" height="13.32" fill="none" stroke="#f8dacf" stroke-width="1.0"/>
<rect x="122.90" y="1156.20" width="69.30" height="15.92" fill="#cc8e81"/>
<rect x="124.20" y="1157.50" width="66.70" height="13.32" fill="none" stroke="#e3a191" stroke-width="1.0"/>
<rect x="192.20" y="1156.20" width="69.20" height="15.92" fill="#e6c8bd"/>
<rect x="193.50" y="1157.50" width="66.60" height="13.32" fill="none" stroke="#f8dacf" stroke-width="1.0"/>
<rect x="261.40" y="1156.20" width="69.40" height="15.92" fill="#e6c8bd"/>
<rect x="262.70" y="1157.50" width="66.80" height="13.32" fill="none" stroke="#f8dacf" stroke-width="1.0"/>
<rect x="330.80" y="1156.20" width="69.20" height="15.92" fill="#cc8e81"/>
<rect x="332.10" y="1157.50" width="66.60" height="13.32" fill="none" stroke="#e3a191" stroke-width="1.0"/>
<rect x="400.00" y="1156.20" width="69.50" height="15.92" fill="#e6c8bd"/>
<rect x="401.30" y="1157.50" width="66.90" height="13.32" fill="none" stroke="#f8dacf" stroke-width="1.0"/>
<rect x="53.80" y="1172.12" width="69.10" height="15.92" fill="#e6c8bd"/>
<rect x="55.10" y="1173.42" width="66.50" height="13.32" fill="none" stroke="#f8dacf" stroke-width="1.0"/>
<rect x="122.90" y="1172.12" width="69.30" height="15.92" fill="#cc8e81"/>
<rect x="124.20" y="1173.42" width="66.70" height="13.32" fill="none" stroke="#e3a191" stroke-width="1.0"/>
<rect x="192.20" y="1172.12" width="69.20" height="15.92" fill="#e6c8bd"/>
<rect x="193.50" y="1173.42" width="66.60" height="13.32" fill="none" stroke="#f8dacf" stroke-width="1.0"/>
<rect x="261.40" y="1172.12" width="69.40" height="15.92" fill="#e6c8bd"/>
<rect x="262.70" y="1173.42" width="66.80" height="13.32" fill="none" stroke="#f8dacf" stroke-width="1.0"/>
<rect x="330.80" y="1172.12" width="69.20" height="15.92" fill="#cc8e81"/>
<rect x="332.10" y="1173.42" width="66.60" height="13.32" fill="none" stroke="#e3a191" stroke-width="1.0"/>
<rect x="400.00" y="1172.12" width="69.50" height="15.92" fill="#e6c8bd"/>
<rect x="401.30" y="1173.42" width="66.90" height="13.32" fill="none" stroke="#f8dacf" stroke-width="1.0"/>
<rect x="53.80" y="1188.04" width="69.10" height="15.92" fill="#e6c8bd"/>
<rect x="55.10" y="1189.34" width="66.50" height="13.32" fill="none" stroke="#f8dacf" stroke-width="1.0"/>
<rect x="122.90" y="1188.04" width="69.30" height="15.92" fill="#cc8e81"/>
<rect x="124.20" y="1189.34" width="66.70" height="13.32" fill="none" stroke="#e3a191" stroke-width="1.0"/>
<rect x="192.20" y="1188.04" width="69.20" height="15.92" fill="#e6c8bd"/>
<rect x="193.50" y="1189.34" width="66.60" height="13.32" fill="none" stroke="#f8dacf" stroke-width="1.0"/>
<rect x="261.40" y="1188.04" width="69.40" height="15.92" fill="#e6c8bd"/>
<rect x="262.70" y="1189.34" width="66.80" height="13.32" fill="none" stroke="#f8dacf" stroke-width="1.0"/>
<rect x="330.80" y="1188.04" width="69.20" height="15.92" fill="#cc8e81"/>
<rect x="332.10" y="1189.34" width="66.60" height="13.32" fill="none" stroke="#e3a191" stroke-width="1.0"/>
<rect x="400.00" y="1188.04" width="69.50" height="15.92" fill="#e6c8bd"/>
<rect x="401.30" y="1189.34" width="66.90" height="13.32" fill="none" stroke="#f8dacf" stroke-width="1.0"/>
<rect x="53.80" y="1203.96" width="69.10" height="15.92" fill="#e6c8bd"/>
<rect x="55.10" y="1205.26" width="66.50" height="13.32" fill="none" stroke="#f8dacf" stroke-width="1.0"/>
<rect x="122.90" y="1203.96" width="69.30" height="15.92" fill="#e6c8bd"/>
<rect x="124.20" y="1205.26" width="66.70" height="13.32" fill="none" stroke="#f8dacf" stroke-width="1.0"/>
<rect x="192.20" y="1203.96" width="69.20" height="15.92" fill="#e6c8bd"/>
<rect x="193.50" y="1205.26" width="66.60" height="13.32" fill="none" stroke="#f8dacf" stroke-width="1.0"/>
<rect x="261.40" y="1203.96" width="69.40" height="15.92" fill="#e6c8bd"/>
<rect x="262.70" y="1205.26" width="66.80" height="13.32" fill="none" stroke="#f8dacf" stroke-width="1.0"/>
<rect x="330.80" y="1203.96" width="69.20" height="15.92" fill="#cc8e81"/>
<rect x="332.10" y="1205.26" width="66.60" height="13.32" fill="none" stroke="#e3a191" stroke-width="1.0"/>
<rect x="400.00" y="1203.96" width="69.50" height="15.92" fill="#cc8e81"/>
<rect x="401.30" y="1205.26" width="66.90" height="13.32" fill="none" stroke="#e3a191" stroke-width="1.0"/>
<rect x="53.80" y="1219.88" width="69.10" height="15.92" fill="#e6c8bd"/>
<rect x="55.10" y="1221.18" width="66.50" height="13.32" fill="none" stroke="#f8dacf" stroke-width="1.0"/>
<rect x="122.90" y="1219.88" width="69.30" height="15.92" fill="#e6c8bd"/>
<rect x="124.20" y="1221.18" width="66.70" height="13.32" fill="none" stroke="#f8dacf" stroke-width="1.0"/>
<rect x="192.20" y="1219.88" width="69.20" height="15.92" fill="#e6c8bd"/>
<rect x="193.50" y="1221.18" width="66.60" height="13.32" fill="none" stroke="#f8dacf" stroke-width="1.0"/>
<rect x="261.40" y="1219.88" width="69.40" height="15.92" fill="#e6c8bd"/>
<rect x="262.70" y="1221.18" width="66.80" height="13.32" fill="none" stroke="#f8dacf" stroke-width="1.0"/>
<rect x="330.80" y="1219.88" width="69.20" height="15.92" fill="#cc8e81"/>
<rect x="332.10" y="1221.18" width="66.60" height="13.32" fill="none" stroke="#e3a191" stroke-width="1.0"/>
<rect x="400.00" y="1219.88" width="69.50" height="15.92" fill="#e6c8bd"/>
<rect x="401.30" y="1221.18" width="66.90" height="13.32" fill="none" stroke="#f8dacf" stroke-width="1.0"/>
<rect x="53.80" y="1235.80" width="69.10" height="15.92" fill="#e6c8bd"/>
<rect x="55.10" y="1237.10" width="66.50" height="13.32" fill="none" stroke="#f8dacf" stroke-width="1.0"/>
<rect x="122.90" y="1235.80" width="69.30" height="15.92" fill="#e6c8bd"/>
<rect x="124.20" y="1237.10" width="66.70" height="13.32" fill="none" stroke="#f8dacf" stroke-width="1.0"/>
<rect x="192.20" y="1235.80" width="69.20" height="15.92" fill="#e6c8bd"/>
<rect x="193.50" y="1237.10" width="66.60" height="13.32" fill="none" stroke="#f8dacf" stroke-width="1.0"/>
<rect x="261.40" y="1235.80" width="69.40" height="15.92" fill="#e6c8bd"/>
<rect x="262.70" y="1237.10" width="66.80" height="13.32" fill="none" stroke="#f8dacf" stroke-width="1.0"/>
<rect x="330.80" y="1235.80" width="69.20" height="15.92" fill="#e6c8bd"/>
<rect x="332.10" y="1237.10" width="66.60" height="13.32" fill="none" stroke="#f8dacf" stroke-width="1.0"/>
<rect x="400.00" y="1235.80" width="69.50" height="15.92" fill="#e6c8bd"/>
<rect x="401.30" y="1237.10" width="66.90" height="13.32" fill="none" stroke="#f8dacf" stroke-width="1.0"/>
<rect x="53.80" y="1251.72" width="69.10" height="15.92" fill="#e6c8bd"/>
<rect x="55.10" y="1253.02" width="66.50" height="13.32" fill="none" stroke="#f8dacf" stroke-width="1.0"/>
<rect x="122.90" y="1251.72" width="69.30" height="15.92" fill="#e6c8bd"/>
<rect x="124.20" y="1253.02" width="66.70" height="13.32" fill="none" stroke="#f8dacf" stroke-width="1.0"/>
<rect x="192.20" y="1251.72" width="69.20" height="15.92" fill="#e6c8bd"/>
<rect x="193.50" y="1253.02" width="66.60" height="13.32" fill="none" stroke="#f8dacf" stroke-width="1.0"/>
<rect x="261.40" y="1251.72" width="69.40" height="15.92" fill="#cc8e81"/>
<rect x="262.70" y="1253.02" width="66.80" height="13.32" fill="none" stroke="#e3a191" stroke-width="1.0"/>
<rect x="330.80" y="1251.72" width="69.20" height="15.92" fill="#e6c8bd"/>
<rect x="332.10" y="1253.02" width="66.60" height="13.32" fill="none" stroke="#f8dacf" stroke-width="1.0"/>
<rect x="400.00" y="1251.72" width="69.50" height="15.92" fill="#e6c8bd"/>
<rect x="401.30" y="1253.02" width="66.90" height="13.32" fill="none" stroke="#f8dacf" stroke-width="1.0"/>
<rect x="53.80" y="1267.64" width="69.10" height="15.92" fill="#e6c8bd"/>
<rect x="55.10" y="1268.94" width="66.50" height="13.32" fill="none" stroke="#f8dacf" stroke-width="1.0"/>
<rect x="122.90" y="1267.64" width="69.30" height="15.92" fill="#e6c8bd"/>
<rect x="124.20" y="1268.94" width="66.70" height="13.32" fill="none" stroke="#f8dacf" stroke-width="1.0"/>
<rect x="192.20" y="1267.64" width="69.20" height="15.92" fill="#e6c8bd"/>
<rect x="193.50" y="1268.94" width="66.60" height="13.32" fill="none" stroke="#f8dacf" stroke-width="1.0"/>
<rect x="261.40" y="1267.64" width="69.40" height="15.92" fill="#cc8e81"/>
<rect x="262.70" y="1268.94" width="66.80" height="13.32" fill="none" stroke="#e3a191" stroke-width="1.0"/>
<rect x="330.80" y="1267.64" width="69.20" height="15.92" fill="#cc8e81"/>
<rect x="332.10" y="1268.94" width="66.60" height="13.32" fill="none" stroke="#e3a191" stroke-width="1.0"/>
<rect x="400.00" y="1267.64" width="69.50" height="15.92" fill="#9299be"/>
<rect x="401.30" y="1268.94" width="66.90" height="13.32" fill="none" stroke="#a4abd2" stroke-width="1.0"/>
<rect x="53.80" y="1283.56" width="69.10" height="15.92" fill="#e6c8bd"/>
<rect x="55.10" y="1284.86" width="66.50" height="13.32" fill="none" stroke="#f8dacf" stroke-width="1.0"/>
<rect x="122.90" y="1283.56" width="69.30" height="15.92" fill="#e6c8bd"/>
<rect x="124.20" y="1284.86" width="66.70" height="13.32" fill="none" stroke="#f8dacf" stroke-width="1.0"/>
<rect x="192.20" y="1283.56" width="69.20" height="15.92" fill="#e6c8bd"/>
<rect x="193.50" y="1284.86" width="66.60" height="13.32" fill="none" stroke="#f8dacf" stroke-width="1.0"/>
<rect x="261.40" y="1283.56" width="69.40" height="15.92" fill="#e6c8bd"/>
<rect x="262.70" y="1284.86" width="66.80" height="13.32" fill="none" stroke="#f8dacf" stroke-width="1.0"/>
<rect x="330.80" y="1283.56" width="69.20" height="15.92" fill="#cc8e81"/>
<rect x="332.10" y="1284.86" width="66.60" height="13.32" fill="none" stroke="#e3a191" stroke-width="1.0"/>
<rect x="400.00" y="1283.56" width="69.50" height="15.92" fill="#e6c8bd"/>
<rect x="401.30" y="1284.86" width="66.90" height="13.32" fill="none" stroke="#f8dacf" stroke-width="1.0"/>
<rect x="53.80" y="1299.48" width="69.10" height="15.92" fill="#e6c8bd"/>
<rect x="55.10" y="1300.78" width="66.50" height="13.32" fill="none" stroke="#f8dacf" stroke-width="1.0"/>
<rect x="122.90" y="1299.48" width="69.30" height="15.92" fill="#cc8e81"/>
<rect x="124.20" y="1300.78" width="66.70" height="13.32" fill="none" stroke="#e3a191" stroke-width="1.0"/>
<rect x="192.20" y="1299.48" width="69.20" height="15.92" fill="#e6c8bd"/>
<rect x="193.50" y="1300.78" width="66.60" height="13.32" fill="none" stroke="#f8dacf" stroke-width="1.0"/>
<rect x="261.40" y="1299.48" width="69.40" height="15.92" fill="#e6c8bd"/>
<rect x="262.70" y="1300.78" width="66.80" height="13.32" fill="none" stroke="#f8dacf" stroke-width="1.0"/>
<rect x="330.80" y="1299.48" width="69.20" height="15.92" fill="#cc8e81"/>
<rect x="332.10" y="1300.78" width="66.60" height="13.32" fill="none" stroke="#e3a191" stroke-width="1.0"/>
<rect x="400.00" y="1299.48" width="69.50" height="15.92" fill="#e6c8bd"/>
<rect x="401.30" y="1300.78" width="66.90" height="13.32" fill="none" stroke="#f8dacf" stroke-width="1.0"/>
<path d="M53.00 41.80H470.30M53.00 57.72H470.30M53.00 73.64H470.30M53.00 89.56H470.30M53.00 105.48H470.30M53.00 121.40H470.30M53.00 137.32H470.30M53.00 153.24H470.30M53.00 169.16H470.30M53.00 185.08H470.30M53.00 201.00H470.30M53.00 216.92H470.30M53.00 232.84H470.30M53.00 248.76H470.30M53.00 264.68H470.30M53.00 280.60H470.30M53.00 296.52H470.30M53.00 312.44H470.30M53.00 328.36H470.30M53.00 344.28H470.30M53.00 360.20H470.30M53.00 376.12H470.30M53.00 392.04H470.30M53.00 407.96H470.30M53.00 423.88H470.30M53.00 439.80H470.30M53.00 455.72H470.30M53.00 471.64H470.30M53.00 487.56H470.30M53.00 503.48H470.30M53.00 519.40H470.30M53.00 535.32H470.30M53.00 551.24H470.30M53.00 567.16H470.30M53.00 583.08H470.30M53.00 599.00H470.30M53.00 614.92H470.30M53.00 630.84H470.30M53.00 646.76H470.30M53.00 662.68H470.30M53.00 678.60H470.30M53.00 694.52H470.30M53.00 710.44H470.30M53.00 726.36H470.30M53.00 742.28H470.30M53.00 758.20H470.30M53.00 774.12H470.30M53.00 790.04H470.30M53.00 805.96H470.30M53.00 821.88H470.30M53.00 837.80H470.30M53.00 853.72H470.30M53.00 869.64H470.30M53.00 885.56H470.30M53.00 901.48H470.30M53.00 917.40H470.30M53.00 933.32H470.30M53.00 949.24H470.30M53.00 965.16H470.30M53.00 981.08H470.30M53.00 997.00H470.30M53.00 1012.92H470.30M53.00 1028.84H470.30M53.00 1044.76H470.30M53.00 1060.68H470.30M53.00 1076.60H470.30M53.00 1092.52H470.30M53.00 1108.44H470.30M53.00 1124.36H470.30M53.00 1140.28H470.30M53.00 1156.20H470.30M53.00 1172.12H470.30M53.00 1188.04H470.30M53.00 1203.96H470.30M53.00 1219.88H470.30M53.00 1235.80H470.30M53.00 1251.72H470.30M53.00 1267.64H470.30M53.00 1283.56H470.30M53.00 1299.48H470.30M53.00 1315.40H470.30M53.80 41.80V1315.40M122.90 41.80V1315.40M192.20 41.80V1315.40M261.40 41.80V1315.40M330.80 41.80V1315.40M400.00 41.80V1315.40M469.50 41.80V1315.40" stroke="#000" stroke-width="1.6" fill="none"/>
<path d="M1 0V1461M0 1H520M518.85 0V1461M0 1459.85H520" stroke="#000" stroke-width="2.1" fill="none"/>
<path d="M37.1 73.64V1315.40" stroke="#000" stroke-width="1.9" fill="none"/>
<path d="M36.2 73.64H48.6M36.2 248.76H48.6M36.2 869.64H48.6M36.2 1315.40H48.6" stroke="#000" stroke-width="1.6" fill="none"/>
<path d="M122.9 1411.5V1423.9H329V1411.5M333.2 1411.5V1423.9H469.3V1411.5" stroke="#000" stroke-width="2" fill="none" stroke-linejoin="miter"/>
<defs><path id="one" d="M500 0V1230L190 1000V1175L525 1409H715V0Z"/></defs>
<text transform="translate(73.40 49.76) rotate(-90)" font-size="13.3" text-anchor="middle">5</text>
<text transform="translate(90.30 49.76) rotate(-90)" font-size="13.3" text-anchor="middle">3</text>
<text transform="translate(73.40 65.68) rotate(-90)" font-size="13.3" text-anchor="middle">4</text>
<text transform="translate(73.40 81.60) rotate(-90)" font-size="13.3" text-anchor="middle">9</text>
<text transform="translate(90.30 81.60) rotate(-90)" font-size="13.3" text-anchor="middle">9</text>
<use href="#one" transform="translate(73.40 97.52) rotate(-90) translate(-3.698 0) scale(0.00649 -0.00649)"/>
<text transform="translate(90.30 97.52) rotate(-90)" font-size="13.3" text-anchor="middle">6</text>
<text transform="translate(107.20 97.52) rotate(-90)" font-size="13.3" text-anchor="middle">3</text>
<use href="#one" transform="translate(73.40 113.44) rotate(-90) translate(-3.698 0) scale(0.00649 -0.00649)"/>
<text transform="translate(90.30 113.44) rotate(-90)" font-size="13.3" text-anchor="middle">3</text>
<text transform="translate(107.20 113.44) rotate(-90)" font-size="13.3" text-anchor="middle">2</text>
<use href="#one" transform="translate(73.40 129.36) rotate(-90) translate(-3.698 0) scale(0.00649 -0.00649)"/>
<use href="#one" transform="translate(90.30 129.36) rotate(-90) translate(-3.698 0) scale(0.00649 -0.00649)"/>
<text transform="translate(107.20 129.36) rotate(-90)" font-size="13.3" text-anchor="middle">4</text>
<text transform="translate(73.40 145.28) rotate(-90)" font-size="13.3" text-anchor="middle">7</text>
<text transform="translate(90.30 145.28) rotate(-90)" font-size="13.3" text-anchor="middle">5</text>
<text transform="translate(73.40 161.20) rotate(-90)" font-size="13.3" text-anchor="middle">4</text>
<text transform="translate(90.30 161.20) rotate(-90)" font-size="13.3" text-anchor="middle">0</text>
<text transform="translate(73.40 177.12) rotate(-90)" font-size="13.3" text-anchor="middle">3</text>
<text transform="translate(90.30 177.12) rotate(-90)" font-size="13.3" text-anchor="middle">4</text>
<text transform="translate(73.40 193.04) rotate(-90)" font-size="13.3" text-anchor="middle">3</text>
<use href="#one" transform="translate(90.30 193.04) rotate(-90) translate(-3.698 0) scale(0.00649 -0.00649)"/>
<text transform="translate(73.40 208.96) rotate(-90)" font-size="13.3" text-anchor="middle">2</text>
<text transform="translate(90.30 208.96) rotate(-90)" font-size="13.3" text-anchor="middle">3</text>
<text transform="translate(73.40 224.88) rotate(-90)" font-size="13.3" text-anchor="middle">7</text>
<text transform="translate(90.30 224.88) rotate(-90)" font-size="13.3" text-anchor="middle">9</text>
<text transform="translate(73.40 240.80) rotate(-90)" font-size="13.3" text-anchor="middle">9</text>
<use href="#one" transform="translate(73.40 256.72) rotate(-90) translate(-3.698 0) scale(0.00649 -0.00649)"/>
<text transform="translate(90.30 256.72) rotate(-90)" font-size="13.3" text-anchor="middle">8</text>
<text transform="translate(107.20 256.72) rotate(-90)" font-size="13.3" text-anchor="middle">5</text>
<use href="#one" transform="translate(73.40 272.64) rotate(-90) translate(-3.698 0) scale(0.00649 -0.00649)"/>
<text transform="translate(90.30 272.64) rotate(-90)" font-size="13.3" text-anchor="middle">7</text>
<text transform="translate(107.20 272.64) rotate(-90)" font-size="13.3" text-anchor="middle">6</text>
<use href="#one" transform="translate(73.40 288.56) rotate(-90) translate(-3.698 0) scale(0.00649 -0.00649)"/>
<text transform="translate(90.30 288.56) rotate(-90)" font-size="13.3" text-anchor="middle">7</text>
<text transform="translate(107.20 288.56) rotate(-90)" font-size="13.3" text-anchor="middle">4</text>
<use href="#one" transform="translate(73.40 304.48) rotate(-90) translate(-3.698 0) scale(0.00649 -0.00649)"/>
<text transform="translate(90.30 304.48) rotate(-90)" font-size="13.3" text-anchor="middle">6</text>
<text transform="translate(107.20 304.48) rotate(-90)" font-size="13.3" text-anchor="middle">7</text>
<use href="#one" transform="translate(73.40 320.40) rotate(-90) translate(-3.698 0) scale(0.00649 -0.00649)"/>
<text transform="translate(90.30 320.40) rotate(-90)" font-size="13.3" text-anchor="middle">5</text>
<text transform="translate(107.20 320.40) rotate(-90)" font-size="13.3" text-anchor="middle">2</text>
<use href="#one" transform="translate(73.40 336.32) rotate(-90) translate(-3.698 0) scale(0.00649 -0.00649)"/>
<text transform="translate(90.30 336.32) rotate(-90)" font-size="13.3" text-anchor="middle">4</text>
<text transform="translate(107.20 336.32) rotate(-90)" font-size="13.3" text-anchor="middle">4</text>
<use href="#one" transform="translate(73.40 352.24) rotate(-90) translate(-3.698 0) scale(0.00649 -0.00649)"/>
<text transform="translate(90.30 352.24) rotate(-90)" font-size="13.3" text-anchor="middle">3</text>
<text transform="translate(107.20 352.24) rotate(-90)" font-size="13.3" text-anchor="middle">4</text>
<use href="#one" transform="translate(73.40 368.16) rotate(-90) translate(-3.698 0) scale(0.00649 -0.00649)"/>
<text transform="translate(90.30 368.16) rotate(-90)" font-size="13.3" text-anchor="middle">2</text>
<text transform="translate(107.20 368.16) rotate(-90)" font-size="13.3" text-anchor="middle">7</text>
<use href="#one" transform="translate(73.40 384.08) rotate(-90) translate(-3.698 0) scale(0.00649 -0.00649)"/>
<text transform="translate(90.30 384.08) rotate(-90)" font-size="13.3" text-anchor="middle">2</text>
<text transform="translate(107.20 384.08) rotate(-90)" font-size="13.3" text-anchor="middle">6</text>
<use href="#one" transform="translate(73.40 400.00) rotate(-90) translate(-3.698 0) scale(0.00649 -0.00649)"/>
<use href="#one" transform="translate(90.30 400.00) rotate(-90) translate(-3.698 0) scale(0.00649 -0.00649)"/>
<text transform="translate(107.20 400.00) rotate(-90)" font-size="13.3" text-anchor="middle">9</text>
<use href="#one" transform="translate(73.40 415.92) rotate(-90) translate(-3.698 0) scale(0.00649 -0.00649)"/>
<text transform="translate(90.30 415.92) rotate(-90)" font-size="13.3" text-anchor="middle">0</text>
<text transform="translate(107.20 415.92) rotate(-90)" font-size="13.3" text-anchor="middle">8</text>
<use href="#one" transform="translate(73.40 431.84) rotate(-90) translate(-3.698 0) scale(0.00649 -0.00649)"/>
<text transform="translate(90.30 431.84) rotate(-90)" font-size="13.3" text-anchor="middle">0</text>
<text transform="translate(107.20 431.84) rotate(-90)" font-size="13.3" text-anchor="middle">3</text>
<use href="#one" transform="translate(73.40 447.76) rotate(-90) translate(-3.698 0) scale(0.00649 -0.00649)"/>
<text transform="translate(90.30 447.76) rotate(-90)" font-size="13.3" text-anchor="middle">0</text>
<text transform="translate(107.20 447.76) rotate(-90)" font-size="13.3" text-anchor="middle">2</text>
<text transform="translate(73.40 463.68) rotate(-90)" font-size="13.3" text-anchor="middle">9</text>
<text transform="translate(90.30 463.68) rotate(-90)" font-size="13.3" text-anchor="middle">3</text>
<text transform="translate(73.40 479.60) rotate(-90)" font-size="13.3" text-anchor="middle">8</text>
<text transform="translate(90.30 479.60) rotate(-90)" font-size="13.3" text-anchor="middle">8</text>
<text transform="translate(73.40 495.52) rotate(-90)" font-size="13.3" text-anchor="middle">8</text>
<text transform="translate(90.30 495.52) rotate(-90)" font-size="13.3" text-anchor="middle">5</text>
<text transform="translate(73.40 511.44) rotate(-90)" font-size="13.3" text-anchor="middle">8</text>
<text transform="translate(90.30 511.44) rotate(-90)" font-size="13.3" text-anchor="middle">4</text>
<text transform="translate(73.40 527.36) rotate(-90)" font-size="13.3" text-anchor="middle">8</text>
<text transform="translate(90.30 527.36) rotate(-90)" font-size="13.3" text-anchor="middle">3</text>
<text transform="translate(73.40 543.28) rotate(-90)" font-size="13.3" text-anchor="middle">8</text>
<text transform="translate(90.30 543.28) rotate(-90)" font-size="13.3" text-anchor="middle">2</text>
<text transform="translate(73.40 559.20) rotate(-90)" font-size="13.3" text-anchor="middle">8</text>
<use href="#one" transform="translate(90.30 559.20) rotate(-90) translate(-3.698 0) scale(0.00649 -0.00649)"/>
<text transform="translate(73.40 575.12) rotate(-90)" font-size="13.3" text-anchor="middle">8</text>
<text transform="translate(90.30 575.12) rotate(-90)" font-size="13.3" text-anchor="middle">0</text>
<text transform="translate(73.40 591.04) rotate(-90)" font-size="13.3" text-anchor="middle">7</text>
<text transform="translate(90.30 591.04) rotate(-90)" font-size="13.3" text-anchor="middle">8</text>
<text transform="translate(73.40 606.96) rotate(-90)" font-size="13.3" text-anchor="middle">7</text>
<text transform="translate(90.30 606.96) rotate(-90)" font-size="13.3" text-anchor="middle">4</text>
<text transform="translate(73.40 622.88) rotate(-90)" font-size="13.3" text-anchor="middle">7</text>
<text transform="translate(90.30 622.88) rotate(-90)" font-size="13.3" text-anchor="middle">2</text>
<text transform="translate(73.40 638.80) rotate(-90)" font-size="13.3" text-anchor="middle">6</text>
<text transform="translate(90.30 638.80) rotate(-90)" font-size="13.3" text-anchor="middle">3</text>
<text transform="translate(73.40 654.72) rotate(-90)" font-size="13.3" text-anchor="middle">5</text>
<text transform="translate(90.30 654.72) rotate(-90)" font-size="13.3" text-anchor="middle">5</text>
<text transform="translate(73.40 670.64) rotate(-90)" font-size="13.3" text-anchor="middle">5</text>
<text transform="translate(90.30 670.64) rotate(-90)" font-size="13.3" text-anchor="middle">2</text>
<text transform="translate(73.40 686.56) rotate(-90)" font-size="13.3" text-anchor="middle">4</text>
<text transform="translate(90.30 686.56) rotate(-90)" font-size="13.3" text-anchor="middle">9</text>
<text transform="translate(73.40 702.48) rotate(-90)" font-size="13.3" text-anchor="middle">4</text>
<text transform="translate(90.30 702.48) rotate(-90)" font-size="13.3" text-anchor="middle">6</text>
<text transform="translate(73.40 718.40) rotate(-90)" font-size="13.3" text-anchor="middle">3</text>
<text transform="translate(90.30 718.40) rotate(-90)" font-size="13.3" text-anchor="middle">8</text>
<text transform="translate(73.40 734.32) rotate(-90)" font-size="13.3" text-anchor="middle">3</text>
<text transform="translate(90.30 734.32) rotate(-90)" font-size="13.3" text-anchor="middle">0</text>
<text transform="translate(73.40 750.24) rotate(-90)" font-size="13.3" text-anchor="middle">2</text>
<text transform="translate(90.30 750.24) rotate(-90)" font-size="13.3" text-anchor="middle">8</text>
<text transform="translate(73.40 766.16) rotate(-90)" font-size="13.3" text-anchor="middle">2</text>
<text transform="translate(90.30 766.16) rotate(-90)" font-size="13.3" text-anchor="middle">7</text>
<use href="#one" transform="translate(73.40 782.08) rotate(-90) translate(-3.698 0) scale(0.00649 -0.00649)"/>
<text transform="translate(90.30 782.08) rotate(-90)" font-size="13.3" text-anchor="middle">9</text>
<use href="#one" transform="translate(73.40 798.00) rotate(-90) translate(-3.698 0) scale(0.00649 -0.00649)"/>
<text transform="translate(90.30 798.00) rotate(-90)" font-size="13.3" text-anchor="middle">5</text>
<use href="#one" transform="translate(73.40 813.92) rotate(-90) translate(-3.698 0) scale(0.00649 -0.00649)"/>
<text transform="translate(90.30 813.92) rotate(-90)" font-size="13.3" text-anchor="middle">2</text>
<text transform="translate(73.40 829.84) rotate(-90)" font-size="13.3" text-anchor="middle">8</text>
<text transform="translate(73.40 845.76) rotate(-90)" font-size="13.3" text-anchor="middle">7</text>
<text transform="translate(73.40 861.68) rotate(-90)" font-size="13.3" text-anchor="middle">3</text>
<use href="#one" transform="translate(73.40 877.60) rotate(-90) translate(-3.698 0) scale(0.00649 -0.00649)"/>
<text transform="translate(90.30 877.60) rotate(-90)" font-size="13.3" text-anchor="middle">8</text>
<use href="#one" transform="translate(107.20 877.60) rotate(-90) translate(-3.698 0) scale(0.00649 -0.00649)"/>
<use href="#one" transform="translate(73.40 893.52) rotate(-90) translate(-3.698 0) scale(0.00649 -0.00649)"/>
<text transform="translate(90.30 893.52) rotate(-90)" font-size="13.3" text-anchor="middle">7</text>
<text transform="translate(107.20 893.52) rotate(-90)" font-size="13.3" text-anchor="middle">2</text>
<use href="#one" transform="translate(73.40 909.44) rotate(-90) translate(-3.698 0) scale(0.00649 -0.00649)"/>
<text transform="translate(90.30 909.44) rotate(-90)" font-size="13.3" text-anchor="middle">6</text>
<text transform="translate(107.20 909.44) rotate(-90)" font-size="13.3" text-anchor="middle">5</text>
<use href="#one" transform="translate(73.40 925.36) rotate(-90) translate(-3.698 0) scale(0.00649 -0.00649)"/>
<text transform="translate(90.30 925.36) rotate(-90)" font-size="13.3" text-anchor="middle">6</text>
<use href="#one" transform="translate(107.20 925.36) rotate(-90) translate(-3.698 0) scale(0.00649 -0.00649)"/>
<use href="#one" transform="translate(73.40 941.28) rotate(-90) translate(-3.698 0) scale(0.00649 -0.00649)"/>
<text transform="translate(90.30 941.28) rotate(-90)" font-size="13.3" text-anchor="middle">5</text>
<use href="#one" transform="translate(107.20 941.28) rotate(-90) translate(-3.698 0) scale(0.00649 -0.00649)"/>
<use href="#one" transform="translate(73.40 957.20) rotate(-90) translate(-3.698 0) scale(0.00649 -0.00649)"/>
<text transform="translate(90.30 957.20) rotate(-90)" font-size="13.3" text-anchor="middle">2</text>
<text transform="translate(107.20 957.20) rotate(-90)" font-size="13.3" text-anchor="middle">5</text>
<use href="#one" transform="translate(73.40 973.12) rotate(-90) translate(-3.698 0) scale(0.00649 -0.00649)"/>
<text transform="translate(90.30 973.12) rotate(-90)" font-size="13.3" text-anchor="middle">2</text>
<text transform="translate(107.20 973.12) rotate(-90)" font-size="13.3" text-anchor="middle">2</text>
<text transform="translate(73.40 989.04) rotate(-90)" font-size="13.3" text-anchor="middle">9</text>
<text transform="translate(90.30 989.04) rotate(-90)" font-size="13.3" text-anchor="middle">0</text>
<text transform="translate(73.40 1004.96) rotate(-90)" font-size="13.3" text-anchor="middle">6</text>
<text transform="translate(90.30 1004.96) rotate(-90)" font-size="13.3" text-anchor="middle">8</text>
<text transform="translate(73.40 1020.88) rotate(-90)" font-size="13.3" text-anchor="middle">6</text>
<text transform="translate(90.30 1020.88) rotate(-90)" font-size="13.3" text-anchor="middle">6</text>
<text transform="translate(73.40 1036.80) rotate(-90)" font-size="13.3" text-anchor="middle">6</text>
<text transform="translate(90.30 1036.80) rotate(-90)" font-size="13.3" text-anchor="middle">4</text>
<text transform="translate(73.40 1052.72) rotate(-90)" font-size="13.3" text-anchor="middle">5</text>
<use href="#one" transform="translate(90.30 1052.72) rotate(-90) translate(-3.698 0) scale(0.00649 -0.00649)"/>
<text transform="translate(73.40 1068.64) rotate(-90)" font-size="13.3" text-anchor="middle">5</text>
<text transform="translate(90.30 1068.64) rotate(-90)" font-size="13.3" text-anchor="middle">0</text>
<text transform="translate(73.40 1084.56) rotate(-90)" font-size="13.3" text-anchor="middle">4</text>
<text transform="translate(90.30 1084.56) rotate(-90)" font-size="13.3" text-anchor="middle">8</text>
<text transform="translate(73.40 1100.48) rotate(-90)" font-size="13.3" text-anchor="middle">4</text>
<text transform="translate(90.30 1100.48) rotate(-90)" font-size="13.3" text-anchor="middle">4</text>
<text transform="translate(73.40 1116.40) rotate(-90)" font-size="13.3" text-anchor="middle">4</text>
<text transform="translate(90.30 1116.40) rotate(-90)" font-size="13.3" text-anchor="middle">3</text>
<text transform="translate(73.40 1132.32) rotate(-90)" font-size="13.3" text-anchor="middle">4</text>
<use href="#one" transform="translate(90.30 1132.32) rotate(-90) translate(-3.698 0) scale(0.00649 -0.00649)"/>
<text transform="translate(73.40 1148.24) rotate(-90)" font-size="13.3" text-anchor="middle">3</text>
<text transform="translate(90.30 1148.24) rotate(-90)" font-size="13.3" text-anchor="middle">9</text>
<text transform="translate(73.40 1164.16) rotate(-90)" font-size="13.3" text-anchor="middle">3</text>
<text transform="translate(90.30 1164.16) rotate(-90)" font-size="13.3" text-anchor="middle">2</text>
<text transform="translate(73.40 1180.08) rotate(-90)" font-size="13.3" text-anchor="middle">2</text>
<text transform="translate(90.30 1180.08) rotate(-90)" font-size="13.3" text-anchor="middle">9</text>
<text transform="translate(73.40 1196.00) rotate(-90)" font-size="13.3" text-anchor="middle">2</text>
<text transform="translate(90.30 1196.00) rotate(-90)" font-size="13.3" text-anchor="middle">6</text>
<text transform="translate(73.40 1211.92) rotate(-90)" font-size="13.3" text-anchor="middle">2</text>
<text transform="translate(90.30 1211.92) rotate(-90)" font-size="13.3" text-anchor="middle">5</text>
<text transform="translate(73.40 1227.84) rotate(-90)" font-size="13.3" text-anchor="middle">2</text>
<use href="#one" transform="translate(90.30 1227.84) rotate(-90) translate(-3.698 0) scale(0.00649 -0.00649)"/>
<use href="#one" transform="translate(73.40 1243.76) rotate(-90) translate(-3.698 0) scale(0.00649 -0.00649)"/>
<text transform="translate(90.30 1243.76) rotate(-90)" font-size="13.3" text-anchor="middle">8</text>
<use href="#one" transform="translate(73.40 1259.68) rotate(-90) translate(-3.698 0) scale(0.00649 -0.00649)"/>
<text transform="translate(90.30 1259.68) rotate(-90)" font-size="13.3" text-anchor="middle">7</text>
<use href="#one" transform="translate(73.40 1275.60) rotate(-90) translate(-3.698 0) scale(0.00649 -0.00649)"/>
<text transform="translate(90.30 1275.60) rotate(-90)" font-size="13.3" text-anchor="middle">4</text>
<text transform="translate(73.40 1291.52) rotate(-90)" font-size="13.3" text-anchor="middle">6</text>
<text transform="translate(73.40 1307.44) rotate(-90)" font-size="13.3" text-anchor="middle">5</text>
<text transform="translate(92.40 1363.40) rotate(-90)" font-size="13.3" text-anchor="middle">Patient ID</text>
<text transform="translate(161.60 1363.40) rotate(-90)" font-size="13.3" text-anchor="middle" textLength="56.8" lengthAdjust="spacingAndGlyphs">Age&gt;=10</text>
<text transform="translate(222.50 1363.40) rotate(-90)" font-size="13.3" text-anchor="middle">Prior</text>
<text transform="translate(239.30 1363.40) rotate(-90)" font-size="13.3" text-anchor="middle">blinatumomab</text>
<text transform="translate(292.20 1363.40) rotate(-90)" font-size="13.3" text-anchor="middle" textLength="61.5" lengthAdjust="spacingAndGlyphs">CD19-dim</text>
<text transform="translate(308.80 1363.40) rotate(-90)" font-size="13.3" text-anchor="middle">leukemia</text>
<text transform="translate(352.80 1363.40) rotate(-90)" font-size="13.3" text-anchor="middle">Loss of</text>
<text transform="translate(369.30 1363.40) rotate(-90)" font-size="13.3" text-anchor="middle">B cell</text>
<text transform="translate(386.10 1363.40) rotate(-90)" font-size="13.3" text-anchor="middle">aplasia</text>
<text transform="translate(422.00 1363.40) rotate(-90)" font-size="13.3" text-anchor="middle">Change in</text>
<text transform="translate(438.80 1363.40) rotate(-90)" font-size="13.3" text-anchor="middle">phenotype of</text>
<text transform="translate(455.90 1363.40) rotate(-90)" font-size="13.3" text-anchor="middle" textLength="35.6" lengthAdjust="spacingAndGlyphs">blasts</text>
<text transform="translate(47.00 40.80) rotate(-90)" font-size="13.3" text-anchor="middle" textLength="51.5" lengthAdjust="spacingAndGlyphs">FP MRD</text>
<text transform="translate(27.30 161.00) rotate(-90)" font-size="13.3" text-anchor="middle">No MRD-negative remission</text>
<text transform="translate(27.30 558.70) rotate(-90)" font-size="13.3" text-anchor="middle" textLength="173.3" lengthAdjust="spacingAndGlyphs">CD19-negative MRD/relapse</text>
<text transform="translate(27.30 1092.50) rotate(-90)" font-size="13.3" text-anchor="middle" textLength="169.3" lengthAdjust="spacingAndGlyphs">CD19-positive MRD/relapse</text>
<text x="226.2" y="1442.4" font-size="13.3" text-anchor="middle">Pre CAR</text>
<text x="401.5" y="1442.4" font-size="13.3" text-anchor="middle">Post CAR</text>
<rect x="489.10" y="1299.60" width="15.90" height="15.60" fill="#cc8e81" stroke="#000" stroke-width="1.6"/>
<rect x="490.40" y="1300.90" width="13.30" height="13.00" fill="none" stroke="#e3a191" stroke-width="1"/>
<rect x="489.10" y="1240.40" width="15.90" height="15.30" fill="#e6c8bd" stroke="#000" stroke-width="1.6"/>
<rect x="490.40" y="1241.70" width="13.30" height="12.70" fill="none" stroke="#f8dacf" stroke-width="1"/>
<rect x="489.10" y="1183.80" width="15.90" height="15.20" fill="#9299be" stroke="#000" stroke-width="1.6"/>
<rect x="490.40" y="1185.10" width="13.30" height="12.60" fill="none" stroke="#a4abd2" stroke-width="1"/>
<text transform="translate(500.80 1293.60) rotate(-90)" font-size="11.1" text-anchor="start">Yes</text>
<text transform="translate(500.80 1233.20) rotate(-90)" font-size="11.1" text-anchor="start">No</text>
<text transform="translate(500.80 1176.40) rotate(-90)" font-size="11.1" text-anchor="start" textLength="209.5" lengthAdjust="spacingAndGlyphs">Not determined/available FP False positive</text>
</svg></body></html>
